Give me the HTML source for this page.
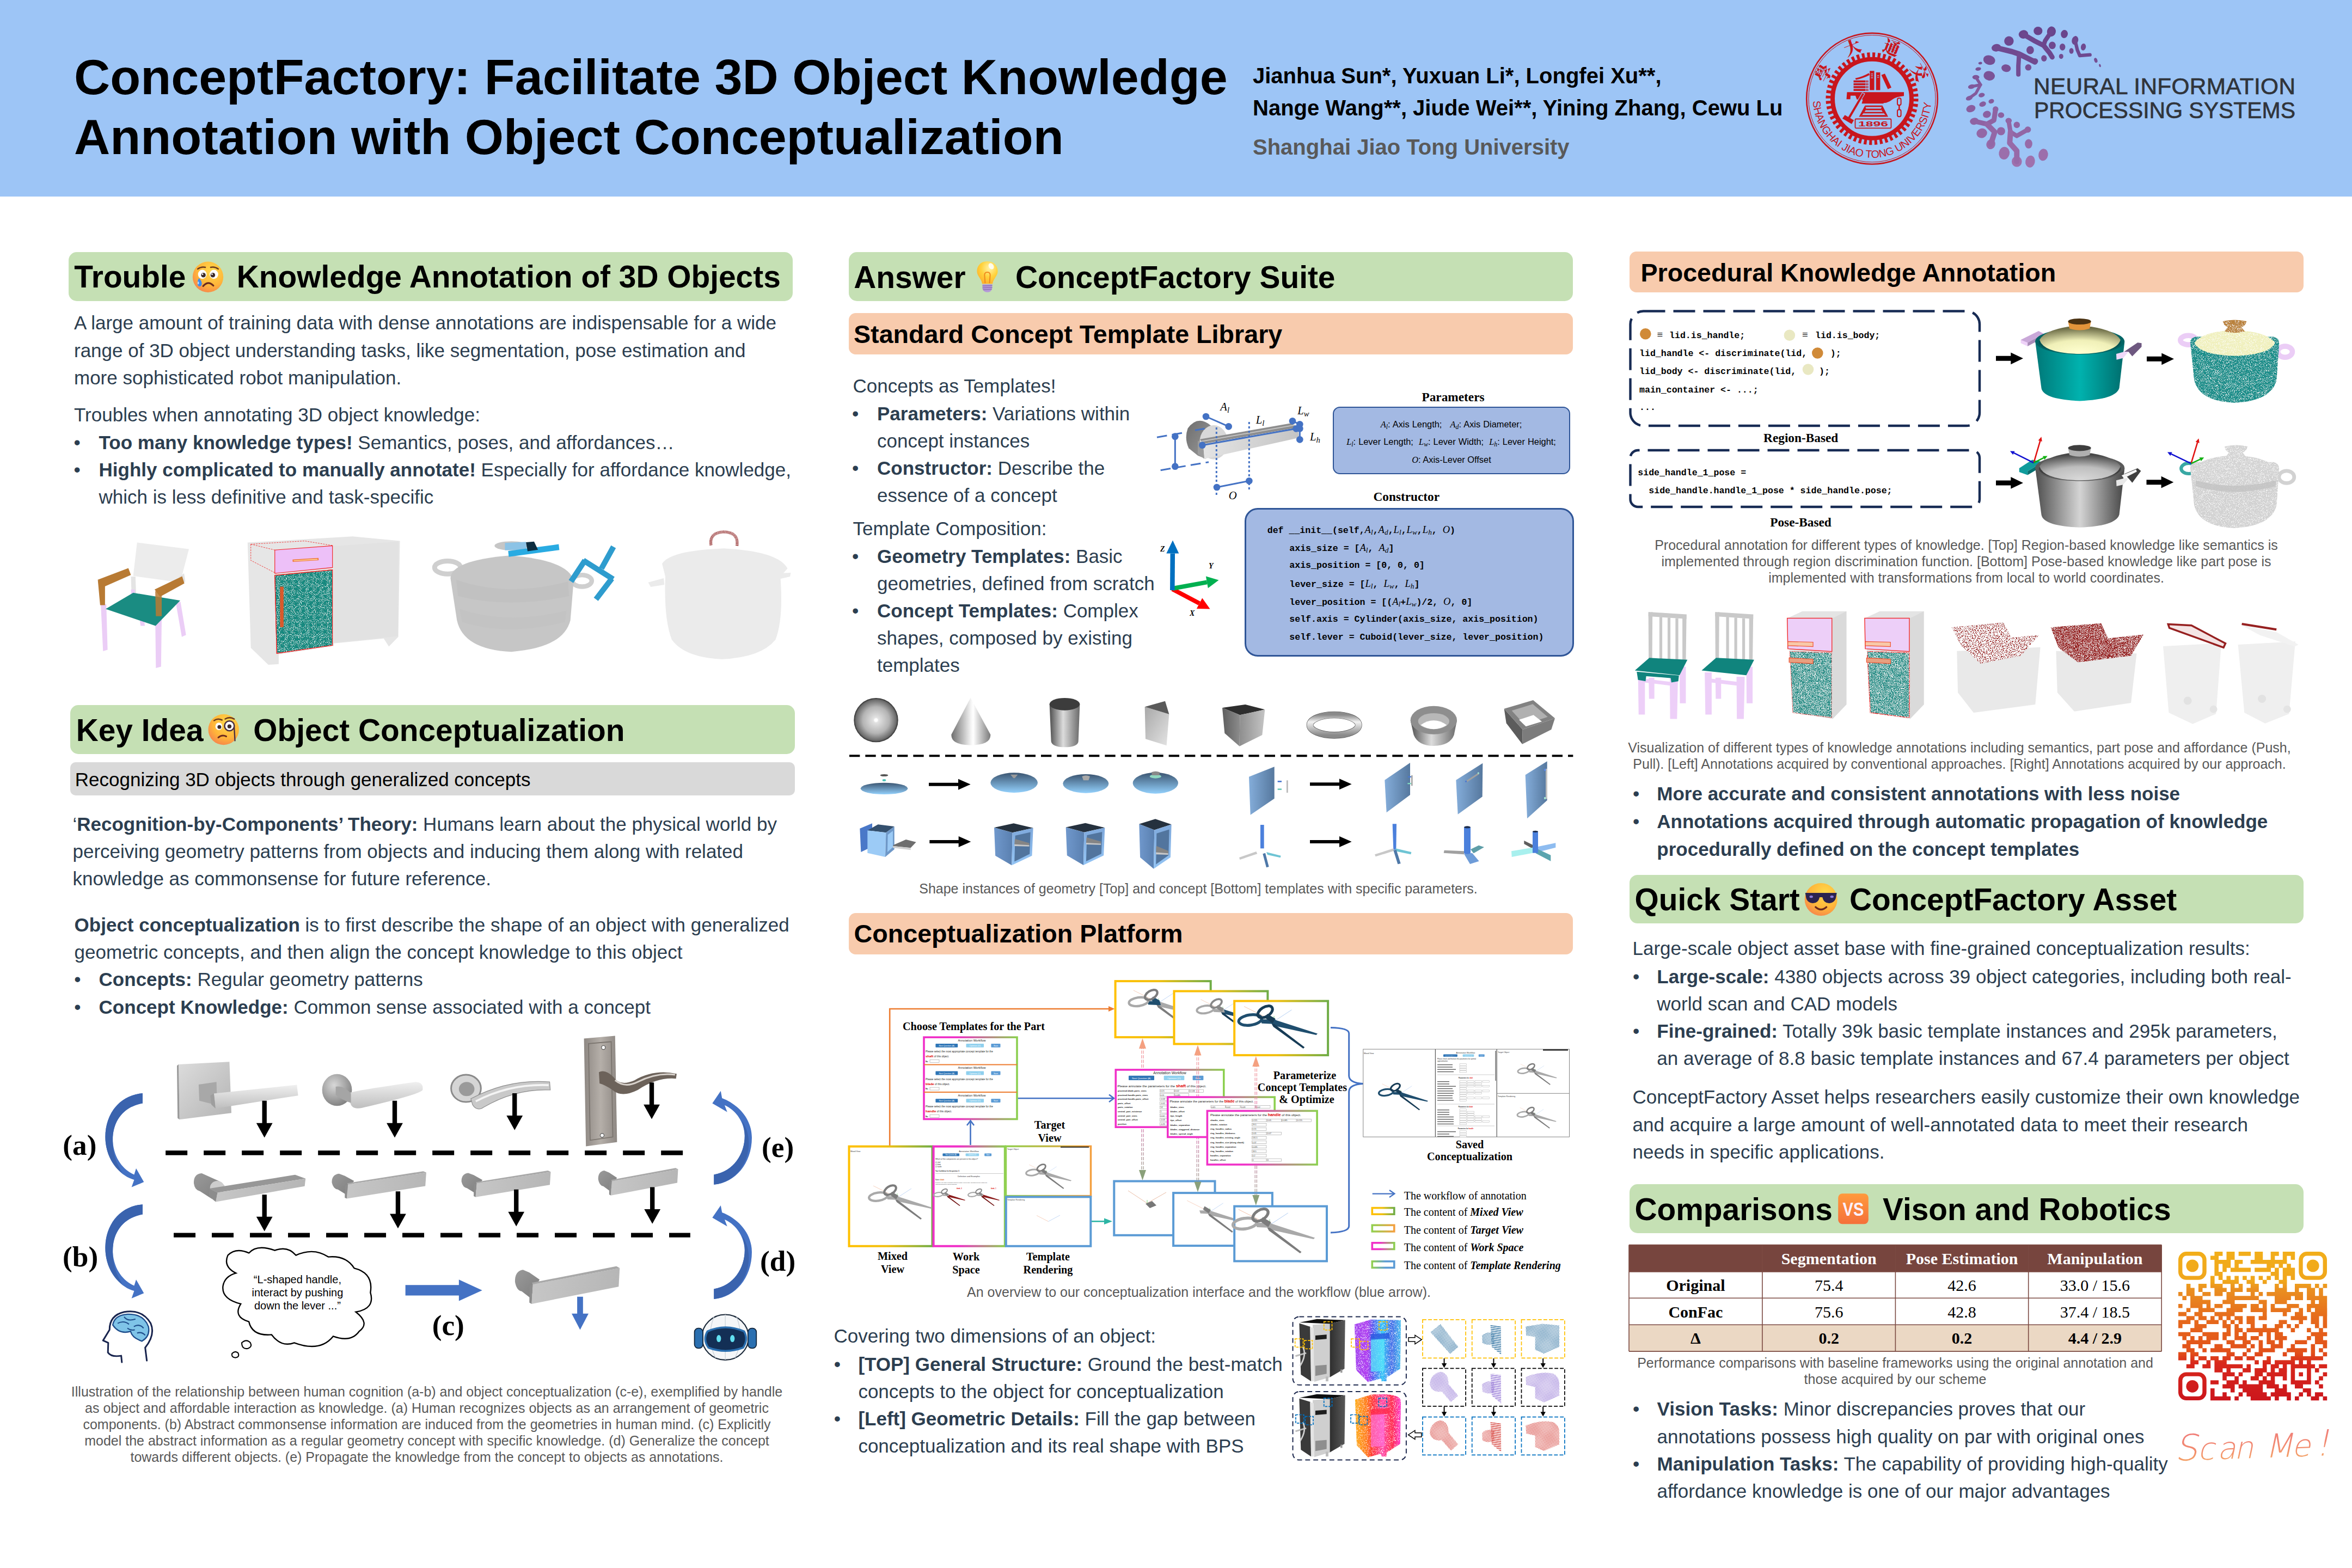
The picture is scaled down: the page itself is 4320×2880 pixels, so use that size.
<!DOCTYPE html>
<html lang="en"><head><meta charset="utf-8"><title>ConceptFactory Poster</title><style>
*{box-sizing:border-box}
html,body{margin:0;padding:0}
body{width:4320px;height:2880px;position:relative;overflow:hidden;background:#fff;font-family:"Liberation Sans",sans-serif;color:#2C3E50}
.t{position:absolute;white-space:nowrap;margin:0;padding:0}
.bar{position:absolute;border-radius:16px}
.g{background:#C5E0B4}.o{background:#F8CBAD}.gr{background:#D9D9D9}
b{font-weight:700}
svg{position:absolute;overflow:visible}
.se{font-family:"Liberation Serif",serif}
.mo{font-family:"Liberation Mono",monospace}
.cap{color:#595959;text-align:center}
i.se{font-weight:400}
.mo i.se{font-size:112%}
</style></head><body>
<div style="position:absolute;left:0;top:0;width:4320px;height:360.6px;background:#9DC5F6"></div>
<div class="t" style="left:136.0px;top:85.94px;font-size:91.67px;line-height:110px;color:#000"><b>ConceptFactory: Facilitate 3D Object Knowledge<br>Annotation with Object Conceptualization</b></div>
<div class="t" style="left:2301.0px;top:110.39px;font-size:40px;line-height:58.5px;color:#000"><b>Jianhua Sun*, Yuxuan Li*, Longfei Xu**,<br>Nange Wang**, Jiude Wei**, Yining Zhang, Cewu Lu</b></div>
<div class="t" style="left:2301.0px;top:246.14px;font-size:40px;line-height:48.0px;color:#595959"><b>Shanghai Jiao Tong University</b></div>
<svg style="left:0px;top:0px" width="4320" height="360" viewBox="0 0 4320 360" ><g transform="translate(3438.5,181.2)" fill="#C8161D" stroke="none"><circle r="120.3" fill="none" stroke="#C8161D" stroke-width="2.6"/><circle r="116.6" fill="none" stroke="#C8161D" stroke-width="1"/><circle r="80" fill="none" stroke="#C8161D" stroke-width="10" stroke-dasharray="5.1 4.566"/><circle r="72.5" fill="none" stroke="#C8161D" stroke-width="8"/><path id="sjarc" d="M -108.6 4.7 A 108.7 108.7 0 0 0 108.2 10.4" fill="none"/><text font-family="Liberation Sans, sans-serif" font-size="19.6" fill="#C8161D"><textPath href="#sjarc" textLength="329" lengthAdjust="spacing">SHANGHAI JIAO TONG UNIVERSITY</textPath></text><text transform="translate(87.5,-48.5) rotate(61)" font-family="Noto Serif CJK SC, Noto Sans CJK SC, serif" font-weight="900" font-size="31" text-anchor="middle" y="11">交</text><text transform="translate(35.8,-93.4) rotate(21)" font-family="Noto Serif CJK SC, Noto Sans CJK SC, serif" font-weight="900" font-size="31" text-anchor="middle" y="11">通</text><text transform="translate(-35.8,-93.4) rotate(-21)" font-family="Noto Serif CJK SC, Noto Sans CJK SC, serif" font-weight="900" font-size="31" text-anchor="middle" y="11">大</text><text transform="translate(-88.3,-46.9) rotate(-62)" font-family="Noto Serif CJK SC, Noto Sans CJK SC, serif" font-weight="900" font-size="31" text-anchor="middle" y="11">學</text><rect x="-34" y="-33.5" width="22" height="3.7"/><rect x="-11" y="-33.5" width="1.6" height="3.7"/><rect x="-8.6" y="-33.5" width="1.6" height="3.7"/><rect x="-34" y="-28.3" width="22" height="3.7"/><rect x="-11" y="-28.3" width="1.6" height="3.7"/><rect x="-8.6" y="-28.3" width="1.6" height="3.7"/><rect x="-34" y="-23.1" width="22" height="3.7"/><rect x="-11" y="-23.1" width="1.6" height="3.7"/><rect x="-8.6" y="-23.1" width="1.6" height="3.7"/><rect x="-34" y="-17.9" width="22" height="3.7"/><rect x="-11" y="-17.9" width="1.6" height="3.7"/><rect x="-8.6" y="-17.9" width="1.6" height="3.7"/><path d="M-31 -37.5 Q-18 -40 -6 -47 L-4.5 -43.5 Q-16 -37.5 -29.5 -34.8 Z"/><rect x="-4.3" y="-51" width="8.3" height="35.3"/><rect x="7.3" y="-48.3" width="7.6" height="32.6"/><path d="M17 -43.5 L23.5 -46 L35.5 -20.5 L29 -17.5 Z"/><g fill="#9DC4F6"><rect x="-2" y="-46" width="3.6" height="1.3"/><rect x="-2" y="-42.5" width="3.6" height="1.3"/><rect x="-2" y="-39" width="3.6" height="1.3"/><rect x="9.4" y="-43" width="3.4" height="1.2"/><rect x="9.4" y="-39.8" width="3.4" height="1.2"/></g><path d="M-46 -12 L58.5 -12 L58.5 -5 Q44 -3.5 38 1 Q33 5.5 26 7.5 L21 8 L21 9 L-19 9 L-17 1.5 L-28 1.5 L-30.5 -5.5 L-39.5 -5.5 L-40 1 L-47 1 Z"/><path d="M-13 12.6 L19 12.6 L17.6 15.4 L-12 15.4 Z M-10.8 18.4 L16.4 18.4 L17.5 21.2 L-11.8 21.2 Z M-13.8 24.2 L19.4 24.2 L21.8 27 L-16 27 Z M-18.6 30 L24.6 30 L27.6 33.2 L-22.6 33.2 Z"/><path d="M-12 15.4 L-10.8 18.4 L-11.8 21.2 L-13.8 24.2 L-16 27 L-18.6 30 L-22.6 33.2 L-24 33.2 L-13 12.6 Z M17.6 15.4 L16.4 18.4 L17.5 21.2 L19.4 24.2 L21.8 27 L24.6 30 L27.6 33.2 L29.5 33.2 L19 12.6Z"/><path d="M-18 -11 L-13.5 -9 L-41 38 L-45.5 35.5 Z" stroke="#9DC4F6" stroke-width="1.2"/><path d="M-50 30 L-33.5 39.5 L-37.5 46.5 L-54.5 36.5 Z"/><g fill="none" stroke="#C8161D" stroke-width="2"><rect x="46.5" y="-1" width="6.6" height="13" rx="3"/><rect x="46.5" y="20" width="6.6" height="13" rx="3"/><path d="M49.8 11 L49.8 21" stroke-width="2.6"/></g><rect x="-31" y="37.3" width="66" height="16.8" rx="1.5" fill="none" stroke="#C8161D" stroke-width="1.8"/><text x="2" y="50.6" font-family="Liberation Sans, sans-serif" font-weight="700" font-size="13.5" text-anchor="middle" textLength="55" lengthAdjust="spacingAndGlyphs">1896</text></g><ellipse cx="3743.3" cy="56.8" rx="8.1" ry="7.8" fill="#69438b" transform="rotate(0 3743.3 56.8)"/><ellipse cx="3767.9" cy="57.9" rx="8.1" ry="9.3" fill="#69448b" transform="rotate(10 3767.9 57.9)"/><ellipse cx="3716.5" cy="63.1" rx="8.7" ry="7.8" fill="#6a458c" transform="rotate(-10 3716.5 63.1)"/><ellipse cx="3689.9" cy="75.3" rx="8.7" ry="8.7" fill="#6d478e" transform="rotate(0 3689.9 75.3)"/><ellipse cx="3666.7" cy="87.7" rx="8.7" ry="6.9" fill="#704990" transform="rotate(-10 3666.7 87.7)"/><ellipse cx="3791.6" cy="62.5" rx="6.4" ry="7.5" fill="#6a458c" transform="rotate(10 3791.6 62.5)"/><ellipse cx="3811.3" cy="74.1" rx="5.8" ry="8.1" fill="#6d478e" transform="rotate(15 3811.3 74.1)"/><ellipse cx="3769.4" cy="83.4" rx="6.4" ry="6.9" fill="#6f498f" transform="rotate(0 3769.4 83.4)"/><ellipse cx="3788.2" cy="86.3" rx="5.2" ry="6.4" fill="#6f498f" transform="rotate(0 3788.2 86.3)"/><ellipse cx="3804.6" cy="93.5" rx="4.0" ry="5.2" fill="#714a90" transform="rotate(0 3804.6 93.5)"/><ellipse cx="3826.6" cy="86.3" rx="4.6" ry="6.4" fill="#6f498f" transform="rotate(10 3826.6 86.3)"/><ellipse cx="3728.9" cy="92.0" rx="6.9" ry="7.5" fill="#714a90" transform="rotate(0 3728.9 92.0)"/><ellipse cx="3754.3" cy="107.1" rx="5.2" ry="5.8" fill="#744d92" transform="rotate(0 3754.3 107.1)"/><ellipse cx="3785.8" cy="103.6" rx="4.0" ry="4.6" fill="#734c92" transform="rotate(0 3785.8 103.6)"/><ellipse cx="3849.4" cy="110.8" rx="2.9" ry="4.6" fill="#754e93" transform="rotate(-20 3849.4 110.8)"/><ellipse cx="3857.0" cy="120.4" rx="1.7" ry="2.9" fill="#775094" transform="rotate(-20 3857.0 120.4)"/><ellipse cx="3653.7" cy="110.3" rx="11.0" ry="8.7" fill="#754e93" transform="rotate(15 3653.7 110.3)"/><ellipse cx="3684.7" cy="125.3" rx="8.7" ry="6.9" fill="#785095" transform="rotate(10 3684.7 125.3)"/><ellipse cx="3725.4" cy="123.8" rx="5.8" ry="5.8" fill="#785095" transform="rotate(0 3725.4 123.8)"/><ellipse cx="3737.6" cy="112.3" rx="5.8" ry="5.2" fill="#754e93" transform="rotate(0 3737.6 112.3)"/><ellipse cx="3637.2" cy="116.0" rx="3.5" ry="2.3" fill="#764f94" transform="rotate(-10 3637.2 116.0)"/><ellipse cx="3633.5" cy="126.7" rx="5.2" ry="3.2" fill="#785195" transform="rotate(-10 3633.5 126.7)"/><ellipse cx="3653.7" cy="139.2" rx="10.4" ry="8.7" fill="#7b5397" transform="rotate(10 3653.7 139.2)"/><ellipse cx="3629.1" cy="141.8" rx="6.4" ry="4.0" fill="#7c5497" transform="rotate(0 3629.1 141.8)"/><ellipse cx="3621.1" cy="159.1" rx="6.4" ry="4.0" fill="#80579a" transform="rotate(-15 3621.1 159.1)"/><ellipse cx="3639.8" cy="174.7" rx="5.8" ry="4.0" fill="#835a9c" transform="rotate(-15 3639.8 174.7)"/><ellipse cx="3617.0" cy="180.2" rx="6.4" ry="4.0" fill="#845b9d" transform="rotate(-20 3617.0 180.2)"/><ellipse cx="3657.5" cy="186.0" rx="5.2" ry="4.0" fill="#865c9d" transform="rotate(-20 3657.5 186.0)"/><ellipse cx="3641.6" cy="191.2" rx="6.4" ry="4.6" fill="#875d9e" transform="rotate(-20 3641.6 191.2)"/><ellipse cx="3619.9" cy="199.6" rx="8.7" ry="6.4" fill="#895e9f" transform="rotate(-20 3619.9 199.6)"/><ellipse cx="3649.4" cy="210.0" rx="7.5" ry="6.4" fill="#8b60a1" transform="rotate(-20 3649.4 210.0)"/><ellipse cx="3675.4" cy="211.4" rx="5.8" ry="5.2" fill="#8c61a1" transform="rotate(0 3675.4 211.4)"/><ellipse cx="3626.3" cy="222.7" rx="8.1" ry="6.4" fill="#8e63a3" transform="rotate(-10 3626.3 222.7)"/><ellipse cx="3640.1" cy="244.7" rx="9.8" ry="8.7" fill="#9367a6" transform="rotate(-20 3640.1 244.7)"/><ellipse cx="3675.4" cy="240.9" rx="7.5" ry="7.5" fill="#9266a5" transform="rotate(0 3675.4 240.9)"/><ellipse cx="3704.3" cy="229.4" rx="5.8" ry="5.8" fill="#9064a4" transform="rotate(0 3704.3 229.4)"/><ellipse cx="3724.6" cy="238.0" rx="5.8" ry="5.8" fill="#9266a5" transform="rotate(0 3724.6 238.0)"/><ellipse cx="3656.6" cy="264.9" rx="8.1" ry="9.3" fill="#986ba9" transform="rotate(20 3656.6 264.9)"/><ellipse cx="3681.2" cy="281.4" rx="9.8" ry="11.6" fill="#9b6eab" transform="rotate(10 3681.2 281.4)"/><ellipse cx="3726.0" cy="264.1" rx="6.9" ry="8.7" fill="#976ba8" transform="rotate(0 3726.0 264.1)"/><ellipse cx="3704.3" cy="296.7" rx="9.3" ry="9.8" fill="#9f71ad" transform="rotate(0 3704.3 296.7)"/><ellipse cx="3728.9" cy="296.7" rx="8.7" ry="11.0" fill="#9f71ad" transform="rotate(10 3728.9 296.7)"/><ellipse cx="3752.9" cy="284.3" rx="8.7" ry="11.0" fill="#9c6eab" transform="rotate(10 3752.9 284.3)"/><ellipse cx="3665.3" cy="200.5" rx="5.2" ry="5.2" fill="#895f9f" transform="rotate(0 3665.3 200.5)"/><ellipse cx="3689.3" cy="221.6" rx="5.8" ry="5.2" fill="#8e63a2" transform="rotate(0 3689.3 221.6)"/><path d="M3666.7 87.7 L3695.6 94.9 L3708.6 99.3 L3728.9 109.4 L3737.6 113.7" fill="none" stroke="#704a90" stroke-width="9.9" stroke-linecap="round" stroke-linejoin="round"/><path d="M3708.6 99.3 L3707.2 120.9 L3707.2 136.8" fill="none" stroke="#734c92" stroke-width="8.1" stroke-linecap="round" stroke-linejoin="round"/><path d="M3716.5 63.1 L3736.1 74.7 L3753.5 83.4 L3765.0 97.8 L3769.4 105.0" fill="none" stroke="#6d478e" stroke-width="9.0" stroke-linecap="round" stroke-linejoin="round"/><path d="M3767.9 57.9 L3756.4 74.7 L3753.5 83.4" fill="none" stroke="#6c468d" stroke-width="8.1" stroke-linecap="round" stroke-linejoin="round"/><path d="M3811.3 74.1 L3815.6 92.0 L3820.0 102.2 L3838.7 100.7" fill="none" stroke="#6e488f" stroke-width="6.3" stroke-linecap="round" stroke-linejoin="round"/><path d="M3629.1 141.8 L3637.8 155.6 L3621.1 159.1" fill="none" stroke="#81589a" stroke-width="5.4" stroke-linecap="round" stroke-linejoin="round"/><path d="M3637.8 155.6 L3629.1 171.5 L3617.0 180.2" fill="none" stroke="#845a9c" stroke-width="5.4" stroke-linecap="round" stroke-linejoin="round"/><path d="M3626.3 222.7 L3649.4 227.9 L3662.4 220.7 L3665.3 200.5" fill="none" stroke="#8f63a3" stroke-width="9.0" stroke-linecap="round" stroke-linejoin="round"/><path d="M3649.4 227.9 L3663.8 242.4 L3656.6 264.9" fill="none" stroke="#9367a6" stroke-width="9.9" stroke-linecap="round" stroke-linejoin="round"/><path d="M3689.3 221.6 L3692.7 242.4 L3704.3 249.6 L3724.6 238.0" fill="none" stroke="#9266a5" stroke-width="8.1" stroke-linecap="round" stroke-linejoin="round"/><path d="M3692.7 242.4 L3691.3 262.6 L3704.3 277.1 L3704.3 296.7" fill="none" stroke="#976aa8" stroke-width="9.9" stroke-linecap="round" stroke-linejoin="round"/><text x="3735" y="173.2" font-family="Liberation Sans, sans-serif" font-size="42.4" fill="#30343A" stroke="#30343A" stroke-width="0.7" textLength="481" lengthAdjust="spacing">NEURAL INFORMATION</text><text x="3736" y="216.6" font-family="Liberation Sans, sans-serif" font-size="42.4" fill="#30343A" stroke="#30343A" stroke-width="0.7" textLength="480" lengthAdjust="spacingAndGlyphs">PROCESSING SYSTEMS</text></svg>
<div class="bar g" style="left:126px;top:463.2px;width:1330px;height:89.8px;border-radius:15.0px"></div>
<div class="t" style="left:136.2px;top:475.49px;font-size:56.85px;line-height:68.22px;color:#000"><b>Trouble</b></div>
<div class="t" style="left:434.8px;top:475.49px;font-size:56.85px;line-height:68.22px;color:#000"><b>Knowledge Annotation of 3D Objects</b></div>
<svg style="left:340px;top:470px" width="90" height="80" viewBox="0 0 90 80" ><defs><radialGradient id="fgsad" cx="0.62" cy="0.3" r="0.85"><stop offset="0" stop-color="#FFD84A"/><stop offset="0.55" stop-color="#FFB63A"/><stop offset="0.85" stop-color="#F78A4A"/><stop offset="1" stop-color="#E86A8A"/></radialGradient></defs><circle cx="42" cy="38.80000000000001" r="28.2" fill="url(#fgsad)"/><g transform="translate(42,38.80000000000001) scale(0.9894736842105263)"><ellipse cx="-10.5" cy="-5" rx="8" ry="8.5" fill="#fff"/><ellipse cx="11" cy="-5" rx="8" ry="8.5" fill="#fff"/><circle cx="-8.5" cy="-3.5" r="4.3" fill="#3B2A2A"/><circle cx="9" cy="-3.5" r="4.3" fill="#3B2A2A"/><circle cx="-10" cy="-5.2" r="1.4" fill="#fff"/><circle cx="7.6" cy="-5.2" r="1.4" fill="#fff"/><path d="M-19 -15 Q-12 -20 -5 -18" stroke="#6B3A1E" stroke-width="2.6" fill="none" stroke-linecap="round"/><path d="M19 -15 Q12 -20 5 -18" stroke="#6B3A1E" stroke-width="2.6" fill="none" stroke-linecap="round"/><path d="M-9 17 Q0 6 10 16" stroke="#6B2A1E" stroke-width="3.2" fill="none" stroke-linecap="round"/><path d="M-17 2 Q-22 12 -17.5 17 Q-12 19 -11.5 12 Q-12 6 -17 2Z" fill="#3E8BF0"/><ellipse cx="-18" cy="11" rx="1.3" ry="2.6" fill="#BFE0FF"/></g></svg>
<div class="t" style="left:136.0px;top:568.17px;font-size:35px;line-height:50.4px;">A large amount of training data with dense annotations are indispensable for a wide<br>range of 3D object understanding tasks, like segmentation, pose estimation and<br>more sophisticated robot manipulation.</div>
<div class="t" style="left:136.0px;top:737.17px;font-size:35px;line-height:50.4px;">Troubles when annotating 3D object knowledge:</div>
<div class="t" style="left:135.4px;top:787.67px;font-size:35px;line-height:50.4px;">•</div>
<div class="t" style="left:135.4px;top:837.87px;font-size:35px;line-height:50.4px;">•</div>
<div class="t" style="left:181.5px;top:787.72px;font-size:35px;line-height:50.3px;"><b>Too many knowledge types!</b> Semantics, poses, and affordances…<br><b>Highly complicated to manually annotate!</b> Especially for affordance knowledge,<br>which is less definitive and task-specific</div>
<svg style="left:100px;top:940px" width="1400" height="320" viewBox="0 0 2352 537.6" ><defs><filter id="pcn" x="0" y="0" width="100%" height="100%"><feTurbulence type="fractalNoise" baseFrequency="0.55" numOctaves="1" seed="4" result="n"/><feColorMatrix in="n" type="matrix" values="0 0 0 0 1  0 0 0 0 1  0 0 0 0 1  0 0 0 -9 3.9" result="m"/><feComposite in="m" in2="SourceGraphic" operator="in" result="sp"/><feMerge><feMergeNode in="SourceGraphic"/><feMergeNode in="sp"/></feMerge></filter></defs><g><path d="M255 95 L415 115 L388 218 L243 198 Z" fill="#ECECEC"/><path d="M236 200 L250 200 L252 255 L238 255Z M385 200 L400 190 L404 215 L392 222Z" fill="#E4E4E4"/><g fill="#EBCDF6"><path d="M143 285 L160 285 L164 426 L150 430Z"/><path d="M311 325 L331 325 L329 478 L313 482Z"/><path d="M374 278 L389 278 L406 380 L393 386Z"/><path d="M262 328 L276 328 L279 352 L266 352Z"/><path d="M236 240 L248 240 L249 262 L237 262Z"/></g><path d="M158 300 L243 250 L388 274 L312 352 Z" fill="#1A8C82"/><g fill="#B87A33"><path d="M133 210 L228 174 L236 195 L152 232Z"/><path d="M134 212 L156 218 L156 288 L141 288Z"/><path d="M309 240 L394 199 L401 221 L326 262Z"/><path d="M311 245 L331 250 L331 322 L313 322Z" opacity="0.85"/></g></g><path d="M596 95 L920 76 L1066 90 L1061 386 L1032 416 L1016 391 L862 406 L862 414 L692 440 L692 470 L660 472 L606 420 Z" fill="#E6E6E6"/><path d="M862 106 L1062 92 L1060 384 L862 404Z" fill="#E2E2E2"/><path d="M606 100 L772 90 L858 104 M606 100 L606 150 L680 188 M606 100 L680 118" stroke="#F03A3A" stroke-width="1.6" fill="none" stroke-dasharray="5 3"/><path d="M680 118 L858 105 L858 172 L680 190 Z" fill="#EDC0F8" stroke="#F02828" stroke-width="2"/><path d="M735 151 L815 146" stroke="#F07838" stroke-width="7"/><path d="M738 151 L812 146.5" stroke="#FFE2B0" stroke-width="2.5"/><path d="M680 196 L858 179 L858 412 L686 437 Z" fill="#17897F" stroke="#F02828" stroke-width="2" filter="url(#pcn)"/><path d="M680 196 L858 179 L858 412 L686 437 Z" fill="none" stroke="#F02828" stroke-width="2"/><rect x="696" y="231" width="11" height="125" fill="#D95A2B"/><g fill="#C6C6C6"><ellipse cx="1213" cy="172" rx="40" ry="20" fill="none" stroke="#CFCFCF" stroke-width="15"/><ellipse cx="1628" cy="213" rx="30" ry="18" fill="none" stroke="#CFCFCF" stroke-width="14"/><path d="M1222 205 Q1225 150 1405 135 Q1592 150 1602 215 L1592 335 Q1570 420 1410 432 Q1262 425 1242 335 Z"/><ellipse cx="1410" cy="105" rx="52" ry="14"/><path d="M1240 210 Q1400 265 1585 215 L1588 260 Q1400 300 1245 260Z" fill="#C1C1C1"/><path d="M1250 300 Q1400 350 1580 305 L1575 340 Q1400 385 1258 340Z" fill="#C3C3C3"/></g><path d="M1390 96 L1455 93 L1457 116 L1390 119Z" fill="#8CC3E6"/><path d="M1400 121 L1556 100 L1558 118 L1402 139Z" fill="#29ABE2"/><path d="M1455 94 L1480 92 L1492 117 L1460 122Z" fill="#0D2D40"/><path d="M1725 108 L1688 175 M1632 150 L1724 208 M1637 150 L1594 215 M1720 206 L1671 270" stroke="#2E9CCE" stroke-width="17" fill="none" stroke-linecap="butt"/><g fill="#EBEBEB"><path d="M1832 218 L1880 205 L1882 225 L1840 232Z M2232 190 L2272 188 L2270 200 L2235 208Z"/><path d="M1875 160 Q1900 120 2065 113 Q2235 122 2262 175 L2240 200 Q2250 330 2225 395 Q2180 450 2060 455 Q1945 450 1905 395 Q1880 330 1885 200 Z"/></g><path d="M2026 103 Q2020 64 2066 62 Q2112 64 2106 105" fill="none" stroke="#8E2424" stroke-width="9" stroke-dasharray="2 1.6"/></svg>
<div class="bar g" style="left:128.9px;top:1294.9px;width:1331px;height:89.7px;border-radius:15.0px"></div>
<div class="t" style="left:139.7px;top:1307.59px;font-size:56.85px;line-height:68.22px;color:#000"><b>Key Idea</b></div>
<div class="t" style="left:465.3px;top:1307.59px;font-size:56.85px;line-height:68.22px;color:#000"><b>Object Conceptualization</b></div>
<svg style="left:370px;top:1300px" width="90" height="85" viewBox="0 0 90 85" ><defs><radialGradient id="fgmon" cx="0.62" cy="0.3" r="0.85"><stop offset="0" stop-color="#FFD84A"/><stop offset="0.55" stop-color="#FFB63A"/><stop offset="0.85" stop-color="#F78A4A"/><stop offset="1" stop-color="#E86A8A"/></radialGradient></defs><circle cx="40.69999999999999" cy="40" r="28.2" fill="url(#fgmon)"/><g transform="translate(40.69999999999999,40) scale(0.9724137931034482)"><ellipse cx="-9" cy="-6" rx="6.5" ry="7" fill="#fff"/><circle cx="-8" cy="-5" r="3.6" fill="#3B2A2A"/><circle cx="11" cy="-7" r="9.2" fill="#fff" stroke="#4A3040" stroke-width="2.6"/><circle cx="11" cy="-6" r="3.8" fill="#3B2A2A"/><path d="M20 -5 L21.5 22" stroke="#4A3040" stroke-width="2.4" fill="none"/><path d="M-18 -17 Q-11 -22 -3 -18" stroke="#6B3A1E" stroke-width="2.6" fill="none" stroke-linecap="round"/><path d="M3 -20 Q11 -25 20 -20" stroke="#6B3A1E" stroke-width="2.6" fill="none" stroke-linecap="round"/><path d="M-10 15 Q-3 9 5 13" stroke="#6B2A1E" stroke-width="3" fill="none" stroke-linecap="round"/></g></svg>
<div class="bar gr" style="left:129px;top:1400px;width:1331px;height:61px;border-radius:10px"></div>
<div class="t" style="left:137.8px;top:1410.57px;font-size:35px;line-height:42.0px;color:#000">Recognizing 3D objects through generalized concepts</div>
<div class="t" style="left:133.5px;top:1488.67px;font-size:35px;line-height:50.4px;">‘<b>Recognition-by-Components’ Theory:</b> Humans learn about the physical world by<br>perceiving geometry patterns from objects and inducing them along with related<br>knowledge as commonsense for future reference.</div>
<div class="t" style="left:136.6px;top:1673.67px;font-size:35px;line-height:50.4px;"><b>Object conceptualization</b> is to first describe the shape of an object with generalized<br>geometric concepts, and then align the concept knowledge to this object</div>
<div class="t" style="left:136.2px;top:1774.47px;font-size:35px;line-height:50.4px;">•</div>
<div class="t" style="left:136.2px;top:1824.87px;font-size:35px;line-height:50.4px;">•</div>
<div class="t" style="left:181.6px;top:1774.47px;font-size:35px;line-height:50.4px;"><b>Concepts:</b> Regular geometry patterns<br><b>Concept Knowledge:</b> Common sense associated with a concept</div>
<svg style="left:100px;top:1880px" width="1400" height="640" viewBox="0 0 2352 1075.2" ><defs><linearGradient id="neckg" x1="0" y1="0" x2="1" y2="1"><stop offset="0" stop-color="#9A9A9A"/><stop offset="1" stop-color="#7E7E7E"/></linearGradient><linearGradient id="barg" x1="0" y1="0" x2="1" y2="0"><stop offset="0" stop-color="#C6C6C6"/><stop offset="1" stop-color="#B6B6B6"/></linearGradient><linearGradient id="plg" x1="0" y1="0" x2="1" y2="1"><stop offset="0" stop-color="#DCDCDC"/><stop offset="1" stop-color="#B4B4B4"/></linearGradient><linearGradient id="lvg" x1="0" y1="0" x2="0" y2="1"><stop offset="0" stop-color="#F0F0F0"/><stop offset="1" stop-color="#BEBEBE"/></linearGradient><radialGradient id="rose" cx="0.4" cy="0.35" r="0.7"><stop offset="0" stop-color="#D8D8D8"/><stop offset="1" stop-color="#7E7E7E"/></radialGradient><linearGradient id="bpl" x1="0" y1="0" x2="1" y2="0"><stop offset="0" stop-color="#8E8883"/><stop offset="0.5" stop-color="#B5AFA9"/><stop offset="1" stop-color="#8E8883"/></linearGradient></defs><path d="M383 126 L540 118 L546 276 L386 296Z" fill="url(#plg)"/><path d="M383 126 L386 296 L380 292 L378 130Z" fill="#9A9A9A"/><path d="M445 188 L500 180 L502 252 L447 238Z" fill="#A8A8A8"/><path d="M492 216 L748 189 L752 222 L497 262Z" fill="url(#lvg)"/><path d="M492 216 L497 262 L484 250 L481 222Z" fill="#9E9E9E"/><ellipse cx="872" cy="205" rx="46" ry="49" fill="url(#rose)"/><path d="M905 215 Q935 205 1115 180 Q1140 182 1136 205 Q1130 218 950 260 Q915 268 912 240Z" fill="url(#lvg)"/><path d="M868 195 Q890 190 915 215 L915 245 Q885 235 868 220Z" fill="#A5A5A5"/><ellipse cx="1270" cy="200" rx="46" ry="42" fill="#D5D5D5" stroke="#8A8A8A" stroke-width="5"/><ellipse cx="1272" cy="202" rx="24" ry="22" fill="#9A9A9A"/><path d="M1285 232 Q1400 170 1528 180 L1530 205 Q1420 200 1318 262 Q1300 268 1290 250Z" fill="#C9C9C9" stroke="#8E8E8E" stroke-width="2"/><path d="M1300 240 Q1405 185 1525 190" stroke="#F4F4F4" stroke-width="6" fill="none"/><path d="M1634 46 L1730 38 L1736 366 L1640 379Z" fill="url(#bpl)"/><path d="M1648 62 L1718 56 L1723 350 L1653 360Z" fill="none" stroke="#7A746E" stroke-width="3"/><circle cx="1694" cy="74" r="6" fill="#fff" stroke="#555" stroke-width="2"/><circle cx="1690" cy="345" r="6" fill="#fff" stroke="#555" stroke-width="2"/><path d="M1680 150 Q1700 140 1725 165 Q1745 195 1790 175 Q1850 140 1920 155 L1918 170 Q1860 165 1800 205 Q1750 230 1722 205 Q1700 190 1682 185Z" fill="#6C625A"/><path d="M1730 175 Q1760 200 1800 180 Q1860 150 1915 158" stroke="#D8D2CC" stroke-width="5" fill="none"/><path d="M641.0 238 L655.0 238 L655.0 307 L673.0 307 L648 352 L623.0 307 L641.0 307Z" fill="#000"/><path d="M1043.0 238 L1057.0 238 L1057.0 307 L1075.0 307 L1050 352 L1025.0 307 L1043.0 307Z" fill="#000"/><path d="M1413.0 215 L1427.0 215 L1427.0 284 L1445.0 284 L1420 329 L1395.0 284 L1413.0 284Z" fill="#000"/><path d="M1836.0 182 L1850.0 182 L1850.0 250 L1868.0 250 L1843 295 L1818.0 250 L1836.0 250Z" fill="#000"/><path d="M343 399 L1940 399" stroke="#000" stroke-width="14" stroke-dasharray="67.2 50.4"/><g transform="translate(430.0,462.0) scale(0.3601,0.3621) translate(-82,-75)"><path d="M150 75 Q80 80 82 160 Q90 220 135 228 L235 292 L345 180 L300 142Z" fill="url(#neckg)"/><ellipse cx="283" cy="198" rx="62" ry="58" fill="#CDCDCD"/><path d="M215 205 L950 88 L1040 120 L285 240Z" fill="#979797"/><path d="M285 240 L1040 120 L1032 185 L270 318Z" fill="url(#barg)"/><path d="M215 205 L285 240 L270 318 L210 270Z" fill="#8C8C8C"/></g><g transform="translate(855.0,455.0) scale(0.3560,0.3525) translate(-1265,-48)"><path d="M1330 72 Q1265 80 1268 150 Q1280 205 1320 210 L1385 250 L1460 135 L1380 90Z" fill="url(#neckg)"/><path d="M1400 155 L2060 50 L2088 62 L1408 166Z" fill="#A8A8A8"/><path d="M1406 165 L2086 62 L2078 180 L1398 290Z" fill="url(#barg)"/><path d="M1382 172 L1406 165 L1398 290 L1380 282Z" fill="#8C8C8C"/></g><g transform="translate(1255.0,453.0) scale(0.3366,0.3402) translate(-1265,-48)"><path d="M1330 72 Q1265 80 1268 150 Q1280 205 1320 210 L1385 250 L1460 135 L1380 90Z" fill="url(#neckg)"/><path d="M1400 155 L2060 50 L2088 62 L1408 166Z" fill="#A8A8A8"/><path d="M1406 165 L2086 62 L2078 180 L1398 290Z" fill="url(#barg)"/><path d="M1382 172 L1406 165 L1398 290 L1380 282Z" fill="#8C8C8C"/></g><g transform="translate(1677.0,445.0) scale(0.3013,0.3525) translate(-1265,-48)"><path d="M1330 72 Q1265 80 1268 150 Q1280 205 1320 210 L1385 250 L1460 135 L1380 90Z" fill="url(#neckg)"/><path d="M1400 155 L2060 50 L2088 62 L1408 166Z" fill="#A8A8A8"/><path d="M1406 165 L2086 62 L2078 180 L1398 290Z" fill="url(#barg)"/><path d="M1382 172 L1406 165 L1398 290 L1380 282Z" fill="#8C8C8C"/></g><path d="M641.0 528 L655.0 528 L655.0 596 L673.0 596 L648 641 L623.0 596 L641.0 596Z" fill="#000"/><path d="M1053.0 518 L1067.0 518 L1067.0 587 L1085.0 587 L1060 632 L1035.0 587 L1053.0 587Z" fill="#000"/><path d="M1418.0 512 L1432.0 512 L1432.0 581 L1450.0 581 L1425 626 L1400.0 581 L1418.0 581Z" fill="#000"/><path d="M1838.0 505 L1852.0 505 L1852.0 573 L1870.0 573 L1845 618 L1820.0 573 L1838.0 573Z" fill="#000"/><path d="M368 653 L1962 653" stroke="#000" stroke-width="14" stroke-dasharray="67.2 50.4"/><g transform="translate(1420.0,748.0) scale(0.3949,0.4836) translate(-1265,-48)"><path d="M1330 72 Q1265 80 1268 150 Q1280 205 1320 210 L1385 250 L1460 135 L1380 90Z" fill="url(#neckg)"/><path d="M1400 155 L2060 50 L2088 62 L1408 166Z" fill="#A8A8A8"/><path d="M1406 165 L2086 62 L2078 180 L1398 290Z" fill="url(#barg)"/><path d="M1382 172 L1406 165 L1398 290 L1380 282Z" fill="#8C8C8C"/></g><path d="M1613.0 843 L1631.0 843 L1631.0 895 L1648.0 895 L1622 945 L1596.0 895 L1613.0 895Z" fill="#4472C4"/><path d="M1083 807 L1248 807 L1248 790 L1320 823 L1248 856 L1248 839 L1083 839Z" fill="#4472C4"/><g transform="translate(0,0)"><path d="M272 215 C190 222 150 295 158 368 C166 432 208 472 246 482 L238 505 L276 489 L252 447 L246 466 C214 452 184 418 180 364 C178 300 214 256 272 246 Z" fill="#4472C4"/><path d="M272 215 C190 222 150 295 158 368 C163 410 183 442 210 462 C190 430 180 400 180 364 C178 300 214 256 272 246Z" fill="#3A63AE"/></g><g transform="translate(0,343)"><path d="M272 215 C190 222 150 295 158 368 C166 432 208 472 246 482 L238 505 L276 489 L252 447 L246 466 C214 452 184 418 180 364 C178 300 214 256 272 246 Z" fill="#4472C4"/><path d="M272 215 C190 222 150 295 158 368 C163 410 183 442 210 462 C190 430 180 400 180 364 C178 300 214 256 272 246Z" fill="#3A63AE"/></g><g transform="translate(0,0)"><path d="M2035 497 L2035 466 C2096 456 2130 402 2130 346 C2128 300 2100 266 2068 252 L2076 273 L2030 246 L2056 208 L2060 230 C2112 250 2152 296 2152 352 C2152 432 2100 492 2035 497 Z" fill="#4472C4"/><path d="M2035 497 L2035 466 C2096 456 2130 402 2130 346 C2130 330 2127 315 2121 300 C2150 340 2150 400 2120 445 C2100 475 2070 493 2035 497Z" fill="#3A63AE"/></g><g transform="translate(0,353)"><path d="M2035 497 L2035 466 C2096 456 2130 402 2130 346 C2128 300 2100 266 2068 252 L2076 273 L2030 246 L2056 208 L2060 230 C2112 250 2152 296 2152 352 C2152 432 2100 492 2035 497 Z" fill="#4472C4"/><path d="M2035 497 L2035 466 C2096 456 2130 402 2130 346 C2130 330 2127 315 2121 300 C2150 340 2150 400 2120 445 C2100 475 2070 493 2035 497Z" fill="#3A63AE"/></g><text x="78" y="405" font-family="Liberation Serif, serif" font-weight="700" font-size="89.5" text-anchor="middle" fill="#000">(a)</text><text x="80" y="750" font-family="Liberation Serif, serif" font-weight="700" font-size="89.5" text-anchor="middle" fill="#000">(b)</text><text x="1215" y="961" font-family="Liberation Serif, serif" font-weight="700" font-size="89.5" text-anchor="middle" fill="#000">(c)</text><text x="2232" y="411" font-family="Liberation Serif, serif" font-weight="700" font-size="89.5" text-anchor="middle" fill="#000">(e)</text><text x="2232" y="762" font-family="Liberation Serif, serif" font-weight="700" font-size="89.5" text-anchor="middle" fill="#000">(d)</text><path d="M560 770 Q520 750 535 715 Q560 690 600 708 Q625 680 680 700 Q720 685 745 715 Q800 690 845 720 Q900 715 925 755 Q985 770 975 830 Q990 880 930 890 Q975 925 940 950 Q915 985 860 965 Q820 1015 740 985 Q700 1000 670 960 Q610 965 600 920 Q550 905 575 865 Q515 850 520 810 Q525 780 560 770Z" fill="#fff" stroke="#000" stroke-width="4"/><path d="M578 985 Q592 972 604 984 Q612 998 596 1003 Q578 1005 578 985Z M548 1018 Q558 1008 567 1017 Q572 1030 558 1031 Q545 1030 548 1018Z" fill="#fff" stroke="#000" stroke-width="3.5"/><text x="750" y="802" font-family="Liberation Sans, sans-serif" font-size="33.6" text-anchor="middle" fill="#000">“L-shaped handle,</text><text x="750" y="842" font-family="Liberation Sans, sans-serif" font-size="33.6" text-anchor="middle" fill="#000">interact by pushing</text><text x="750" y="882" font-family="Liberation Sans, sans-serif" font-size="33.6" text-anchor="middle" fill="#000">down the lever ...”</text><g fill="none" stroke="#18244E" stroke-width="5" stroke-linecap="round" stroke-linejoin="round"><path d="M208 1045 L206 1025 Q175 1030 165 1015 L166 985 L150 978 L170 945 Q170 900 215 890 Q270 880 297 925 Q312 960 280 1000 L285 1040"/></g><path d="M180 930 Q185 900 225 897 Q275 895 290 935 Q296 965 270 980 Q240 970 235 950 Q200 960 180 930Z" fill="#7FC4E8" stroke="#1F4E8C" stroke-width="4"/><path d="M195 925 Q215 915 230 928 M215 905 Q225 920 250 912 M245 935 Q262 925 275 940 M255 955 Q270 950 280 962 M225 940 Q235 948 248 945" stroke="#1F4E8C" stroke-width="3.5" fill="none"/><ellipse cx="2070" cy="968" rx="72" ry="70" fill="#F4F6F8" stroke="#1C2A3A" stroke-width="3.5"/><path d="M2070 898 L2070 1038 M2035 905 Q2010 970 2040 1032 M2105 905 Q2130 970 2100 1032" stroke="#C8D0D8" stroke-width="2" fill="none"/><rect x="1975" y="940" width="26" height="62" rx="12" fill="#2A6FB0" stroke="#13263C" stroke-width="3"/><rect x="2140" y="940" width="26" height="62" rx="12" fill="#2A6FB0" stroke="#13263C" stroke-width="3"/><path d="M2015 950 Q2070 925 2128 950 Q2142 975 2125 1000 Q2070 1020 2018 1000 Q2000 975 2015 950Z" fill="#132F55" stroke="#2A6FB0" stroke-width="6"/><ellipse cx="2050" cy="972" rx="7" ry="11" fill="#62E0F0"/><ellipse cx="2092" cy="972" rx="7" ry="11" fill="#62E0F0"/></svg>
<div class="t cap" style="left:-216.0px;top:2541.04px;font-size:25px;line-height:30px;width:2000px;text-align:center;">Illustration of the relationship between human cognition (a-b) and object conceptualization (c-e), exemplified by handle<br>as object and affordable interaction as knowledge. (a) Human recognizes objects as an arrangement of geometric<br>components. (b) Abstract commonsense information are induced from the geometries in human mind. (c) Explicitly<br>model the abstract information as a regular geometry concept with specific knowledge. (d) Generalize the concept<br>towards different objects. (e) Propagate the knowledge from the concept to objects as annotations.</div>
<div class="bar g" style="left:1559px;top:463.2px;width:1330px;height:89.7px;border-radius:15.0px"></div>
<div class="t" style="left:1568.2px;top:475.59px;font-size:56.85px;line-height:68.22px;color:#000"><b>Answer</b></div>
<div class="t" style="left:1865.0px;top:475.69px;font-size:56.85px;line-height:68.22px;color:#000"><b>ConceptFactory Suite</b></div>
<svg style="left:1780px;top:470px" width="70" height="80" viewBox="0 0 70 80" ><defs><radialGradient id="bg1" cx="0.6" cy="0.3" r="0.8"><stop offset="0" stop-color="#FFF3A8"/><stop offset="0.5" stop-color="#FFD23C"/><stop offset="1" stop-color="#FFA928"/></radialGradient></defs><g transform="translate(33.5,10) scale(1.0052910052910053)"><path d="M0 0 C-13 0 -19 9 -19 18 C-19 27 -11 31 -9.5 41 L9.5 41 C11 31 19 27 19 18 C19 9 13 0 0 0Z" fill="url(#bg1)"/><path d="M-4 40 L-5 27 Q-6 20 0 20 Q6 20 5 27 L4 40" stroke="#F08A1E" stroke-width="2" fill="none"/><ellipse cx="7" cy="9" rx="4.5" ry="6" fill="#fff" opacity="0.85" transform="rotate(-30 7 9)"/><path d="M-9 42 L9 42 L8.5 51 Q6 56.5 0 56.5 Q-6 56.5 -8.5 51Z" fill="#B59AD8"/><path d="M-9 45 L9 44 M-9 48.5 L9 47.5 M-8 52 L8 51" stroke="#8E73B8" stroke-width="1.4"/></g></svg>
<div class="bar o" style="left:1559px;top:575.1px;width:1330px;height:75.7px;border-radius:12.6px"></div>
<div class="t" style="left:1568.0px;top:585.83px;font-size:46.67px;line-height:56.0px;color:#000"><b>Standard Concept Template Library</b></div>
<div class="t" style="left:1566.5px;top:684.47px;font-size:35px;line-height:50.2px;">Concepts as Templates!</div>
<div class="t" style="left:1564.9px;top:735.07px;font-size:35px;line-height:50px;">•</div>
<div class="t" style="left:1564.9px;top:835.47px;font-size:35px;line-height:50px;">•</div>
<div class="t" style="left:1564.9px;top:996.87px;font-size:35px;line-height:50px;">•</div>
<div class="t" style="left:1564.9px;top:1097.07px;font-size:35px;line-height:50px;">•</div>
<div class="t" style="left:1611.0px;top:735.00px;font-size:35px;line-height:50.15px;"><b>Parameters:</b> Variations within<br>concept instances<br><b>Constructor:</b> Describe the<br>essence of a concept</div>
<div class="t" style="left:1566.5px;top:946.27px;font-size:35px;line-height:50.2px;">Template Composition:</div>
<div class="t" style="left:1611.0px;top:996.82px;font-size:35px;line-height:50.1px;"><b>Geometry Templates:</b> Basic<br>geometries, defined from scratch<br><b>Concept Templates:</b> Complex<br>shapes, composed by existing<br>templates</div>
<svg style="left:2100px;top:690px" width="340" height="240" viewBox="0 0 1020 720" ><defs><linearGradient id="pdf" x1="0" y1="0" x2="1" y2="0"><stop offset="0" stop-color="#E4E4E4"/><stop offset="1" stop-color="#C4C4C4"/></linearGradient><linearGradient id="pdc" x1="0" y1="0" x2="1" y2="1"><stop offset="0" stop-color="#6E6E6E"/><stop offset="1" stop-color="#9A9A9A"/></linearGradient></defs><path d="M372 275 Q300 215 245 290 Q225 345 250 400 L300 440 L345 458 Z" fill="url(#pdc)"/><ellipse cx="388" cy="367" rx="78" ry="94" fill="#D8D8D8"/><path d="M300 358 L330 375 L336 458 L300 432Z" fill="#9C9C9C"/><path d="M312 350 L815 262 L852 286 L330 376Z" fill="#8E8E8E"/><path d="M320 362 L835 272" stroke="#C8C8C8" stroke-width="5"/><path d="M330 376 L852 286 L858 342 L336 458Z" fill="url(#pdf)"/><path d="M75 340 L240 311 M285 301 L338 292" stroke="#4472C4" stroke-width="9" fill="none" stroke-dasharray="56 28"/><path d="M95 521 L360 476" stroke="#4472C4" stroke-width="9" fill="none" stroke-dasharray="56 28"/><path d="M403 285 L403 668 M583 255 L583 632" stroke="#4472C4" stroke-width="9" fill="none" stroke-dasharray="12 12"/><path d="M345 225 L470 280" stroke="#4472C4" stroke-width="9" fill="none"/><circle cx="345" cy="225" r="19" fill="#4472C4"/><circle cx="470" cy="280" r="19" fill="#4472C4"/><path d="M325 383 L842 292" stroke="#4472C4" stroke-width="9" fill="none"/><circle cx="325" cy="383" r="19" fill="#4472C4"/><circle cx="842" cy="292" r="19" fill="#4472C4"/><path d="M822 250 L862 268" stroke="#4472C4" stroke-width="9" fill="none"/><circle cx="822" cy="250" r="19" fill="#4472C4"/><circle cx="862" cy="268" r="19" fill="#4472C4"/><path d="M862 292 L862 352" stroke="#4472C4" stroke-width="9" fill="none"/><circle cx="862" cy="292" r="19" fill="#4472C4"/><circle cx="862" cy="352" r="19" fill="#4472C4"/><path d="M175 335 L175 500" stroke="#4472C4" stroke-width="9" fill="none"/><circle cx="175" cy="335" r="19" fill="#4472C4"/><circle cx="175" cy="500" r="19" fill="#4472C4"/><path d="M405 615 L583 580" stroke="#4472C4" stroke-width="9" fill="none"/><circle cx="405" cy="615" r="19" fill="#4472C4"/><circle cx="583" cy="580" r="19" fill="#4472C4"/><text x="424" y="192" font-family="Liberation Serif, serif" font-style="italic" fill="#000" font-size="62">A<tspan font-size="44" dy="12">l</tspan></text><text x="620" y="264" font-family="Liberation Serif, serif" font-style="italic" fill="#000" font-size="62">L<tspan font-size="44" dy="12">l</tspan></text><text x="850" y="212" font-family="Liberation Serif, serif" font-style="italic" fill="#000" font-size="62">L<tspan font-size="44" dy="12">w</tspan></text><text x="918" y="357" font-family="Liberation Serif, serif" font-style="italic" fill="#000" font-size="62">L<tspan font-size="44" dy="12">h</tspan></text><text x="470" y="680" font-family="Liberation Serif, serif" font-style="italic" fill="#000" font-size="62">O</text></svg>
<svg style="left:0px;top:0px" width="4320" height="2880" viewBox="0 0 4320 2880" ><path d="M2153.3 1082.0 L2203.0 1108.2" stroke="#FF0000" stroke-width="8"/><path d="M2222.5 1118.5 L2197.9 1118.0 L2208.2 1098.5Z" fill="#FF0000"/><path d="M2153.3 1081.0 L2216.9 1069.4" stroke="#00B050" stroke-width="8"/><path d="M2238.5 1065.5 L2218.8 1080.3 L2214.9 1058.6Z" fill="#00B050"/><path d="M2153.3 1084.0 L2153.8 1016.5" stroke="#0070C0" stroke-width="8.5"/><path d="M2154.0 992.5 L2165.3 1016.6 L2142.3 1016.4Z" fill="#0070C0"/><text x="2131" y="1013" font-family="Liberation Serif, serif" font-style="italic" font-weight="700" font-size="14" fill="#000">Z</text><text x="2220" y="1044" font-family="Liberation Serif, serif" font-style="italic" font-weight="700" font-size="14" fill="#000">Y</text><text x="2185" y="1131" font-family="Liberation Serif, serif" font-style="italic" font-weight="700" font-size="14" fill="#000">X</text></svg>
<div class="t se" style="left:2469.0px;top:715.86px;font-size:23.3px;line-height:27.96px;width:400px;text-align:center;color:#000"><b>Parameters</b></div>
<div style="position:absolute;left:2447.5px;top:746.5px;width:436px;height:124px;background:#A3B9E3;border:2.5px solid #2F5597;border-radius:13px"></div>
<div class="t" style="left:2445.5px;top:769.78px;font-size:16.4px;line-height:19.68px;width:440px;text-align:center;color:#000;word-spacing:0.5px"><i class="se">A<sub style="font-size:72%;vertical-align:-0.22em;line-height:0">l</sub></i>: Axis Length;&nbsp;&nbsp;&nbsp;<i class="se">A<sub style="font-size:72%;vertical-align:-0.22em;line-height:0">d</sub></i>: Axis Diameter;</div>
<div class="t" style="left:2445.5px;top:802.48px;font-size:16.4px;line-height:19.68px;width:440px;text-align:center;color:#000;word-spacing:0.5px"><i class="se">L<sub style="font-size:72%;vertical-align:-0.22em;line-height:0">l</sub></i>: Lever Length;&nbsp; <i class="se">L<sub style="font-size:72%;vertical-align:-0.22em;line-height:0">w</sub></i>: Lever Width;&nbsp; <i class="se">L<sub style="font-size:72%;vertical-align:-0.22em;line-height:0">h</sub></i>: Lever Height;</div>
<div class="t" style="left:2446.0px;top:835.28px;font-size:16.4px;line-height:19.68px;width:440px;text-align:center;color:#000"><i class="se">O</i>: Axis-Lever Offset</div>
<div class="t se" style="left:2383.3px;top:899.16px;font-size:23.3px;line-height:27.96px;width:400px;text-align:center;color:#000"><b>Constructor</b></div>
<div style="position:absolute;left:2285.5px;top:932.5px;width:605px;height:273px;background:#A3B9E3;border:3px solid #2F5597;border-radius:24px"></div>
<div class="t mo" style="left:2327.7px;top:962.94px;font-size:16.57px;line-height:19.88px;color:#000"><b>def __init__(self,<i class="se">A<sub style="font-size:72%;vertical-align:-0.22em;line-height:0">l</sub></i>,<i class="se">A<sub style="font-size:72%;vertical-align:-0.22em;line-height:0">d</sub></i>,<i class="se">L<sub style="font-size:72%;vertical-align:-0.22em;line-height:0">l</sub></i>,<i class="se">L<sub style="font-size:72%;vertical-align:-0.22em;line-height:0">w</sub></i>,<i class="se">L<sub style="font-size:72%;vertical-align:-0.22em;line-height:0">h</sub></i>, <i class="se">O</i>)</b></div>
<div class="t mo" style="left:2368.3px;top:995.64px;font-size:16.57px;line-height:19.88px;color:#000"><b>axis_size = [<i class="se">A<sub style="font-size:72%;vertical-align:-0.22em;line-height:0">l</sub></i>, <i class="se">A<sub style="font-size:72%;vertical-align:-0.22em;line-height:0">d</sub></i>]</b></div>
<div class="t mo" style="left:2368.3px;top:1028.84px;font-size:16.57px;line-height:19.88px;color:#000"><b>axis_position = [0, 0, 0]</b></div>
<div class="t mo" style="left:2368.3px;top:1062.14px;font-size:16.57px;line-height:19.88px;color:#000"><b>lever_size = [<i class="se">L<sub style="font-size:72%;vertical-align:-0.22em;line-height:0">l</sub></i>, <i class="se">L<sub style="font-size:72%;vertical-align:-0.22em;line-height:0">w</sub></i>, <i class="se">L<sub style="font-size:72%;vertical-align:-0.22em;line-height:0">h</sub></i>]</b></div>
<div class="t mo" style="left:2368.3px;top:1094.94px;font-size:16.57px;line-height:19.88px;color:#000"><b>lever_position = [(<i class="se">A<sub style="font-size:72%;vertical-align:-0.22em;line-height:0">l</sub></i>+<i class="se">L<sub style="font-size:72%;vertical-align:-0.22em;line-height:0">w</sub></i>)/2, <i class="se">O</i>, 0]</b></div>
<div class="t mo" style="left:2368.3px;top:1127.94px;font-size:16.57px;line-height:19.88px;color:#000"><b>self.axis = Cylinder(axis_size, axis_position)</b></div>
<div class="t mo" style="left:2368.3px;top:1160.64px;font-size:16.57px;line-height:19.88px;color:#000"><b>self.lever = Cuboid(lever_size, lever_position)</b></div>
<svg style="left:1540px;top:1250px" width="1360" height="410" viewBox="0 0 4080 1230" ><defs><radialGradient id="sph" cx="0.5" cy="0.5" r="0.5"><stop offset="0" stop-color="#fff"/><stop offset="0.06" stop-color="#fff"/><stop offset="0.12" stop-color="#E2E2E2"/><stop offset="0.6" stop-color="#B4B4B4"/><stop offset="0.92" stop-color="#6A6A6A"/><stop offset="1" stop-color="#2E2E2E"/></radialGradient><linearGradient id="cone" x1="0" y1="0" x2="1" y2="0"><stop offset="0" stop-color="#6E6E6E"/><stop offset="0.5" stop-color="#F4F4F4"/><stop offset="0.56" stop-color="#fff"/><stop offset="1" stop-color="#7A7A7A"/></linearGradient><linearGradient id="cyl" x1="0" y1="0" x2="1" y2="0"><stop offset="0" stop-color="#4E4E4E"/><stop offset="0.45" stop-color="#DCDCDC"/><stop offset="1" stop-color="#6A6A6A"/></linearGradient><linearGradient id="pri" x1="0" y1="0" x2="1" y2="1"><stop offset="0" stop-color="#A8A8A8"/><stop offset="1" stop-color="#E4E4E4"/></linearGradient><linearGradient id="cul" x1="0" y1="0" x2="1" y2="0"><stop offset="0" stop-color="#5E5E5E"/><stop offset="1" stop-color="#8C8C8C"/></linearGradient><linearGradient id="cur" x1="0" y1="0" x2="1" y2="0"><stop offset="0" stop-color="#8E8E8E"/><stop offset="1" stop-color="#C4C4C4"/></linearGradient><linearGradient id="tor" x1="0" y1="0" x2="0" y2="1"><stop offset="0" stop-color="#8A8A8A"/><stop offset="0.35" stop-color="#F2F2F2"/><stop offset="1" stop-color="#8A8A8A"/></linearGradient><linearGradient id="lid" x1="0" y1="0" x2="0" y2="1"><stop offset="0" stop-color="#3C5672"/><stop offset="1" stop-color="#93D0FC"/></linearGradient><linearGradient id="door" x1="0" y1="0" x2="1" y2="0"><stop offset="0" stop-color="#84ADDA"/><stop offset="1" stop-color="#56789E"/></linearGradient><linearGradient id="cabl" x1="0" y1="0" x2="1" y2="0"><stop offset="0" stop-color="#7098CC"/><stop offset="1" stop-color="#5A80B0"/></linearGradient><linearGradient id="cabf" x1="0" y1="0" x2="0" y2="1"><stop offset="0" stop-color="#7FA9DC"/><stop offset="1" stop-color="#93C4F4"/></linearGradient></defs><circle cx="207" cy="218" r="122" fill="url(#sph)"/><path d="M728 95 L838 298 Q840 355 730 356 Q620 355 622 298Z" fill="url(#cone)"/><path d="M1163 130 L1330 130 L1322 335 Q1320 366 1247 367 Q1176 366 1172 335Z" fill="url(#cyl)"/><ellipse cx="1246.5" cy="130" rx="83.5" ry="34" fill="#3C3C3C"/><path d="M1688 145 L1822 185 L1808 358 L1692 322Z" fill="url(#pri)"/><path d="M1688 145 L1800 113 L1822 185Z" fill="#5A5A5A"/><path d="M2115 150 L2242 132 L2350 160 L2212 190Z" fill="#2E2E2E"/><path d="M2115 150 L2212 190 L2210 362 L2128 290Z" fill="url(#cul)"/><path d="M2212 190 L2350 160 L2335 300 L2210 362Z" fill="url(#cur)"/><ellipse cx="2732" cy="245" rx="134" ry="56" fill="none" stroke="#555" stroke-width="38"/><ellipse cx="2732" cy="245" rx="134" ry="56" fill="none" stroke="url(#tor)" stroke-width="34"/><path d="M3152 220 L3170 300 Q3195 360 3280 360 Q3370 358 3392 300 L3408 220Z" fill="url(#cyl)"/><ellipse cx="3280" cy="218" rx="128" ry="78" fill="#8E8E8E"/><ellipse cx="3280" cy="224" rx="86" ry="44" fill="#B8B8B8"/><path d="M3208 245 Q3280 195 3352 245 Q3280 290 3208 245Z" fill="#fff"/><path d="M3668 155 L3770 270 L3768 350 L3680 235Z" fill="#5C5C5C"/><path d="M3770 270 L3948 208 L3928 270 L3768 350Z" fill="#7C7C7C"/><path d="M3668 155 L3828 108 L3948 208 L3770 270Z" fill="#828282"/><path d="M3710 166 L3826 130 L3908 200 L3780 243Z" fill="#B0B0B0"/><path d="M3750 216 L3830 190 L3876 226 L3788 253Z" fill="#fff"/><path d="M60 415 L4048 415" stroke="#000" stroke-width="12" stroke-dasharray="58 30"/><path d="M498 563 L660 563 L660 542 L728 572 L660 602 L660 581 L498 581Z" fill="#000"/><path d="M502 879 L662 879 L662 858 L730 888 L662 918 L662 897 L502 897Z" fill="#000"/><path d="M2598 562 L2760 562 L2760 541 L2828 571 L2760 601 L2760 580 L2598 580Z" fill="#000"/><path d="M2598 879 L2760 879 L2760 858 L2828 888 L2760 918 L2760 897 L2598 897Z" fill="#000"/><ellipse cx="252" cy="595" rx="130" ry="32" fill="url(#lid)"/><ellipse cx="252" cy="522" rx="22" ry="6" fill="#555"/><ellipse cx="252" cy="549" rx="10" ry="6" fill="#4FC4B8"/><ellipse cx="968" cy="563" rx="130" ry="55" fill="url(#lid)"/><ellipse cx="1363" cy="568" rx="126" ry="52" fill="url(#lid)"/><ellipse cx="1747" cy="565" rx="125" ry="58" fill="url(#lid)"/><path d="M948 518 L988 518 L972 538 L964 538Z" fill="#9A9A9A"/><path d="M1342 528 Q1363 518 1386 528 L1378 550 L1350 550Z" fill="#A8A8A8"/><ellipse cx="1747" cy="528" rx="32" ry="11" fill="#8FD8C0"/><path d="M1725 505 Q1747 496 1770 505 L1768 522 L1728 522Z" fill="#8A8A8A"/><path d="M858.0 810.1 L965.5 787.0 L1073.0 812.4 L959.0 837.8Z" fill="#25313E"/><path d="M858.0 810.1 L959.0 837.8 L954.8 1018.0 L864.5 964.9Z" fill="url(#cabl)"/><path d="M959.0 837.8 L1073.0 812.4 L1066.5 964.9 L954.8 1018.0Z" fill="url(#cabf)"/><path d="M974.1 854.0 L1058.0 835.5 L1053.7 955.6 L969.8 997.2Z" fill="#52759E"/><path d="M972.0 872.5 L1051.5 895.6 L1051.5 907.1 L969.8 902.5Z" fill="#858585"/><path d="M969.8 902.5 L1051.5 907.1 L1051.5 914.0 L969.8 911.7Z" fill="#C8C8C8"/><path d="M1253.0 808.2 L1360.5 785.0 L1468.0 810.5 L1354.0 836.0Z" fill="#25313E"/><path d="M1253.0 808.2 L1354.0 836.0 L1349.8 1017.0 L1259.5 963.6Z" fill="url(#cabl)"/><path d="M1354.0 836.0 L1468.0 810.5 L1461.5 963.6 L1349.8 1017.0Z" fill="url(#cabf)"/><path d="M1369.1 852.3 L1453.0 833.7 L1448.7 954.4 L1364.8 996.1Z" fill="#52759E"/><path d="M1367.0 863.9 L1446.5 887.1 L1446.5 898.7 L1364.8 894.0Z" fill="#858585"/><path d="M1364.8 894.0 L1446.5 898.7 L1446.5 905.6 L1364.8 903.3Z" fill="#C8C8C8"/><path d="M1657.0 790.4 L1746.0 763.0 L1835.0 793.1 L1740.7 823.3Z" fill="#25313E"/><path d="M1657.0 790.4 L1740.7 823.3 L1737.1 1037.0 L1662.3 974.0Z" fill="url(#cabl)"/><path d="M1740.7 823.3 L1835.0 793.1 L1829.7 974.0 L1737.1 1037.0Z" fill="url(#cabf)"/><path d="M1753.1 842.5 L1822.5 820.5 L1819.0 963.0 L1749.6 1012.3Z" fill="#52759E"/><path d="M1751.3 911.0 L1817.2 938.4 L1817.2 952.1 L1749.6 946.6Z" fill="#858585"/><path d="M1749.6 946.6 L1817.2 952.1 L1817.2 960.3 L1749.6 957.5Z" fill="#C8C8C8"/><path d="M118 815 L186 787 L186 915 L124 945Z" fill="#4A78C8"/><path d="M160 826 L218 793 L308 804 L262 838Z" fill="#34506E"/><path d="M160 826 L262 838 L258 972 L160 950Z" fill="#9CCBF6"/><path d="M262 838 L308 804 L308 930 L258 972Z" fill="#6E98C8"/><path d="M272 850 L300 828 L300 918 L270 945Z" fill="#9CCBF6"/><path d="M305 905 L372 876 L428 890 L398 922 L300 912Z" fill="#6E6E6E"/><path d="M300 912 L398 922 L398 934 L300 922Z" fill="#D0D0D0"/><path d="M2262 530 L2402 475 L2402 650 L2270 740Z" fill="url(#door)"/><rect x="2420" y="552" width="22" height="8" fill="#4A78D0"/><rect x="2420" y="595" width="22" height="8" fill="#6EC8B8"/><rect x="2469" y="550" width="8" height="68" fill="#B8B8B8"/><path d="M3010 548 L3150 453 L3150 630 L3020 727Z" fill="url(#door)"/><rect x="3156" y="522" width="8" height="58" fill="#A8A8A8"/><rect x="3138" y="527" width="18" height="7" fill="#4A78D0"/><rect x="3136" y="564" width="20" height="7" fill="#7ED8C0"/><path d="M3403 548 L3550 455 L3548 640 L3413 737Z" fill="url(#door)"/><path d="M3458 558 L3528 512" stroke="#A0A0A0" stroke-width="9"/><circle cx="3458" cy="556" r="5" fill="#4A78D0"/><circle cx="3526" cy="510" r="5" fill="#9EE0D0"/><path d="M3785 520 L3905 445 L3905 660 L3795 760Z" fill="url(#door)"/><rect x="3897" y="486" width="9" height="166" fill="#C0C0C0"/><rect x="3888" y="486" width="10" height="12" fill="#5A88E0"/><rect x="3888" y="642" width="10" height="12" fill="#9EE0D0"/><rect x="2325" y="795" width="20" height="130" fill="#4B80DC"/><path d="M2208 975 L2302 942 L2308 955 L2212 987Z" fill="#C8C8C8"/><path d="M2358 945 L2438 965 L2435 976 L2364 960Z" fill="#6EC4D4"/><path d="M2338 955 L2352 950 L2372 1026 L2358 1030Z" fill="#4E78A8"/><path d="M3053 790 L3075 790 L3073 932 L3058 932Z" fill="#4B80DC"/><path d="M2955 958 L3058 925 L3062 938 L2960 970Z" fill="#C8C8C8"/><path d="M3070 925 L3157 945 L3154 958 L3068 940Z" fill="#6EC4D4"/><path d="M3058 935 L3074 932 L3098 1008 L3082 1012Z" fill="#4E78A8"/><path d="M3338 935 L3447 940 L3447 958 L3335 950Z" fill="#A0A0A0"/><path d="M3483 930 L3528 908 L3558 918 L3500 952Z" fill="#5E9EA8"/><path d="M3447 955 L3492 950 L3530 995 L3480 1011Z" fill="#6E9CD8"/><rect x="3447" y="808" width="36" height="142" fill="#4B80DC"/><ellipse cx="3465" cy="808" rx="18" ry="6" fill="#1E2E4E"/><ellipse cx="3465" cy="950" rx="18" ry="6" fill="#4B80DC"/><path d="M3778 882 L3825 905 L3825 926 L3778 900Z" fill="#5E5E5E"/><path d="M3708 940 L3825 920 L3825 950 L3710 972Z" fill="#A8F0EE"/><path d="M3855 915 L3952 895 L3952 920 L3855 945Z" fill="#8EBCF0"/><path d="M3845 925 L3925 962 L3925 995 L3842 952Z" fill="#5BA4AE"/><rect x="3825" y="832" width="30" height="118" fill="#4B80DC"/><ellipse cx="3840" cy="832" rx="15" ry="5" fill="#1E2E4E"/></svg>
<div class="t cap" style="left:1201.0px;top:1617.04px;font-size:25px;line-height:30.0px;width:2000px;text-align:center;">Shape instances of geometry [Top] and concept [Bottom] templates with specific parameters.</div>
<div class="bar o" style="left:1559px;top:1676.9px;width:1330px;height:75.7px;border-radius:12.6px"></div>
<div class="t" style="left:1568.5px;top:1687.43px;font-size:46.67px;line-height:56.0px;color:#000"><b>Conceptualization Platform</b></div>
<svg style="left:0px;top:0px" width="4320" height="2880" viewBox="0 0 4320 2880" ><defs><linearGradient id="gYG" x1="0" y1="0" x2="1" y2="0"><stop offset="0" stop-color="#FFC000"/><stop offset="0.45" stop-color="#F2C010"/><stop offset="1" stop-color="#70AD47"/></linearGradient><linearGradient id="gMG" x1="0" y1="0" x2="1" y2="0"><stop offset="0" stop-color="#F030C8"/><stop offset="0.35" stop-color="#F030C8"/><stop offset="1" stop-color="#8CD050"/></linearGradient><linearGradient id="gGO" x1="0" y1="0" x2="1" y2="0"><stop offset="0" stop-color="#92D050"/><stop offset="1" stop-color="#F4A040"/></linearGradient><linearGradient id="gGB" x1="0" y1="0" x2="1" y2="0"><stop offset="0" stop-color="#92D050"/><stop offset="0.6" stop-color="#5B9BD5"/><stop offset="1" stop-color="#5B9BD5"/></linearGradient><linearGradient id="gBB" x1="0" y1="0" x2="1" y2="0"><stop offset="0" stop-color="#5B9BD5"/><stop offset="1" stop-color="#5B9BD5"/></linearGradient></defs><path d="M1634.2 2104 L1634.2 1853 L2040 1853" fill="none" stroke="#ED7D31" stroke-width="2.6"/><path d="M2047.5 1853 L2036 1848 L2036 1858Z" fill="#ED7D31"/><rect x="1559.5" y="2105.7" width="153.0" height="183.1" fill="#fff" stroke="url(#gYG)" stroke-width="4"/><rect x="1714.6" y="2105.7" width="131.2" height="183.1" fill="#fff" stroke="url(#gMG)" stroke-width="4"/><rect x="1847.5" y="2105.4" width="156.0" height="91.2" fill="#fff" stroke="url(#gGO)" stroke-width="3.5"/><rect x="1847.8" y="2198.4" width="155.5" height="90.4" fill="#fff" stroke="url(#gBB)" stroke-width="4"/><text font-family="Liberation Sans, sans-serif" font-size="3.6" fill="#333"><tspan x="1562" y="2116">Mixed View</tspan><tspan x="1850" y="2112">Target Object</tspan><tspan x="1850" y="2204.5">Template Rendering</tspan></text><rect x="1948" y="2106" width="52" height="1.6" fill="#000"/><g transform="translate(1648.0,2200.0) rotate(0) scale(1.000)"><path d="M0 0 L-44 -22" stroke="#F0B090" stroke-width="0.6"/><path d="M0 0 L26 -17" stroke="#9CC0F0" stroke-width="0.6"/><path d="M0 0 L0 -8" stroke="#70D070" stroke-width="0.7"/><path d="M-4 -4 L64 18 L62 20 L-2 6Z" fill="#A9A9A9"/><path d="M-6 -1 L45 38 L43 40 L-1 8Z" fill="#7C7C7C"/><path d="M-20 -3 L2 -3 L4 4 L-18 3Z" fill="#A9A9A9"/><path d="M-10 -11 L2 -4 L-2 3 L-13 -5Z" fill="#7C7C7C"/><ellipse cx="-35" cy="-2" rx="17" ry="7.5" fill="none" stroke="#A9A9A9" stroke-width="4.2" transform="rotate(-8 -35 -2)"/><ellipse cx="-13" cy="-14" rx="12" ry="7" fill="none" stroke="#7C7C7C" stroke-width="4" transform="rotate(-32 -13 -14)"/></g><g transform="translate(1922.0,2155.0) rotate(0) scale(0.720)"><path d="M0 0 L-44 -22" stroke="#F0B090" stroke-width="0.6"/><path d="M0 0 L26 -17" stroke="#9CC0F0" stroke-width="0.6"/><path d="M0 0 L0 -8" stroke="#70D070" stroke-width="0.7"/><path d="M-4 -4 L64 18 L62 20 L-2 6Z" fill="#A9A9A9"/><path d="M-6 -1 L45 38 L43 40 L-1 8Z" fill="#7C7C7C"/><path d="M-20 -3 L2 -3 L4 4 L-18 3Z" fill="#A9A9A9"/><path d="M-10 -11 L2 -4 L-2 3 L-13 -5Z" fill="#7C7C7C"/><ellipse cx="-35" cy="-2" rx="17" ry="7.5" fill="none" stroke="#A9A9A9" stroke-width="4.2" transform="rotate(-8 -35 -2)"/><ellipse cx="-13" cy="-14" rx="12" ry="7" fill="none" stroke="#7C7C7C" stroke-width="4" transform="rotate(-32 -13 -14)"/></g><path d="M1925.5 2243.5 L1904 2232.5" stroke="#F0B090" stroke-width="0.6"/><path d="M1925.5 2243.5 L1947 2232" stroke="#9CC0F0" stroke-width="0.6"/><text x="1779.5" y="2116" font-family="Liberation Sans, sans-serif" font-size="4" fill="#333" text-anchor="middle">Annotation Workflow</text><rect x="1731.4" y="2118.5" width="30.7" height="4.9" rx="1" fill="#2E75B6"/><rect x="1773.6" y="2118.5" width="24.6" height="4.9" rx="1" fill="#8FD0EE"/><rect x="1808.2" y="2118.5" width="12.9" height="4.9" rx="1" fill="#5B9BD5"/><text y="2122.0" font-family="Liberation Sans, sans-serif" font-size="2.59" fill="#fff" text-anchor="middle"><tspan x="1746.7">Next Question (A)</tspan><tspan x="1785.9">Optimize (O)</tspan><tspan x="1814.6">Save</tspan></text><text font-family="Liberation Sans, sans-serif" font-size="3.4" fill="#222"><tspan x="1718" y="2130">Which of the components are present in this object?</tspan><tspan x="1718" y="2135.5" font-size="2.6">☑ shaft</tspan><tspan x="1718" y="2139.5" font-size="2.6">☑ blade</tspan><tspan x="1718" y="2143.5" font-size="2.6">☑ handle</tspan><tspan x="1718" y="2152" font-size="2.6" font-weight="700">Your Confidence for the question: 5</tspan></text><path d="M1718 2155.5 L1843 2155.5" stroke="#999" stroke-width="0.5"/><text x="1779.5" y="2162" font-family="Liberation Sans, sans-serif" font-size="3.8" fill="#333" text-anchor="middle">Definition and Examples</text><text font-family="Liberation Sans, sans-serif" font-size="2.8" fill="#222"><tspan x="1718" y="2168">Name: </tspan><tspan fill="#E06010" font-weight="700">blade</tspan><tspan x="1718" y="2173" font-size="2.3">Definition: The blade of scissors features a sharp, curved edge, facilitating precise cutting and</tspan><tspan x="1718" y="2176.3" font-size="2.3">effortless trimming of various materials.</tspan></text><g transform="translate(1741.0,2195.0) rotate(0) scale(0.500)"><path d="M-4 -4 L64 18 L62 20 L-2 6Z" fill="#8B1A1A"/><path d="M-6 -1 L45 38 L43 40 L-1 8Z" fill="#701010"/><path d="M-20 -3 L2 -3 L4 4 L-18 3Z" fill="#A9A9A9"/><path d="M-10 -11 L2 -4 L-2 3 L-13 -5Z" fill="#888"/><ellipse cx="-35" cy="-2" rx="17" ry="7.5" fill="none" stroke="#A9A9A9" stroke-width="4.2" transform="rotate(-8 -35 -2)"/><ellipse cx="-13" cy="-14" rx="12" ry="7" fill="none" stroke="#888" stroke-width="4" transform="rotate(-32 -13 -14)"/></g><g transform="translate(1804.0,2195.0) rotate(0) scale(0.500)"><path d="M-4 -4 L64 18 L62 20 L-2 6Z" fill="#8B1A1A"/><path d="M-6 -1 L45 38 L43 40 L-1 8Z" fill="#701010"/><path d="M-20 -3 L2 -3 L4 4 L-18 3Z" fill="#A9A9A9"/><path d="M-10 -11 L2 -4 L-2 3 L-13 -5Z" fill="#888"/><ellipse cx="-35" cy="-2" rx="17" ry="7.5" fill="none" stroke="#A9A9A9" stroke-width="4.2" transform="rotate(-8 -35 -2)"/><ellipse cx="-13" cy="-14" rx="12" ry="7" fill="none" stroke="#888" stroke-width="4" transform="rotate(-32 -13 -14)"/></g><text font-family="Liberation Sans, sans-serif" font-size="2.6" fill="#E00000" font-weight="700"><tspan x="1757" y="2184">blade_0</tspan><tspan x="1820" y="2184">blade_1</tspan></text><rect x="1697.0" y="1905.2" width="171.0" height="150.3" fill="#fff" stroke="url(#gMG)" stroke-width="3.6"/><text x="1785" y="1912.5" font-family="Liberation Sans, sans-serif" font-size="5.6" fill="#222" text-anchor="middle">Annotation Workflow</text><rect x="1718.4" y="1917.0" width="40.8" height="6.8" rx="1" fill="#2E75B6"/><rect x="1774.5" y="1917.0" width="32.6" height="6.8" rx="1" fill="#8FD0EE"/><rect x="1820.4" y="1917.0" width="17.1" height="6.8" rx="1" fill="#5B9BD5"/><text y="1921.9" font-family="Liberation Sans, sans-serif" font-size="3.60" fill="#fff" text-anchor="middle"><tspan x="1738.8">Next Question (A)</tspan><tspan x="1790.8">Optimize (O)</tspan><tspan x="1829.0">Save</tspan></text><text font-family="Liberation Sans, sans-serif" font-size="4.7" fill="#222"><tspan x="1700" y="1933.0">Please select the most appropriate concept template for the</tspan><tspan x="1700" y="1942.0" fill="#E00000" font-weight="700" font-size="6">shaft</tspan><tspan> of this object.</tspan><tspan x="1700" y="1950.5" font-size="3.2" font-weight="700">No.</tspan></text><rect x="1708" y="1946.5" width="17" height="5" fill="#fff" stroke="#888" stroke-width="0.5"/><path d="M1697 1955.5 L1868 1955.5" stroke="#ED7D31" stroke-width="2"/><text x="1785" y="1963.1" font-family="Liberation Sans, sans-serif" font-size="5.6" fill="#222" text-anchor="middle">Annotation Workflow</text><rect x="1718.4" y="1967.6" width="40.8" height="6.8" rx="1" fill="#2E75B6"/><rect x="1774.5" y="1967.6" width="32.6" height="6.8" rx="1" fill="#8FD0EE"/><rect x="1820.4" y="1967.6" width="17.1" height="6.8" rx="1" fill="#5B9BD5"/><text y="1972.5" font-family="Liberation Sans, sans-serif" font-size="3.60" fill="#fff" text-anchor="middle"><tspan x="1738.8">Next Question (A)</tspan><tspan x="1790.8">Optimize (O)</tspan><tspan x="1829.0">Save</tspan></text><text font-family="Liberation Sans, sans-serif" font-size="4.7" fill="#222"><tspan x="1700" y="1983.6">Please select the most appropriate concept template for the</tspan><tspan x="1700" y="1992.6" fill="#E00000" font-weight="700" font-size="6">blade</tspan><tspan> of this object.</tspan><tspan x="1700" y="2001.1" font-size="3.2" font-weight="700">No.</tspan></text><rect x="1708" y="1997.1" width="17" height="5" fill="#fff" stroke="#888" stroke-width="0.5"/><path d="M1697 2006.1 L1868 2006.1" stroke="#ED7D31" stroke-width="2"/><text x="1785" y="2013.7" font-family="Liberation Sans, sans-serif" font-size="5.6" fill="#222" text-anchor="middle">Annotation Workflow</text><rect x="1718.4" y="2018.2" width="40.8" height="6.8" rx="1" fill="#2E75B6"/><rect x="1774.5" y="2018.2" width="32.6" height="6.8" rx="1" fill="#8FD0EE"/><rect x="1820.4" y="2018.2" width="17.1" height="6.8" rx="1" fill="#5B9BD5"/><text y="2023.1" font-family="Liberation Sans, sans-serif" font-size="3.60" fill="#fff" text-anchor="middle"><tspan x="1738.8">Next Question (A)</tspan><tspan x="1790.8">Optimize (O)</tspan><tspan x="1829.0">Save</tspan></text><text font-family="Liberation Sans, sans-serif" font-size="4.7" fill="#222"><tspan x="1700" y="2034.2">Please select the most appropriate concept template for the</tspan><tspan x="1700" y="2043.2" fill="#E00000" font-weight="700" font-size="6">handle</tspan><tspan> of this object.</tspan><tspan x="1700" y="2051.7" font-size="3.2" font-weight="700">No.</tspan></text><rect x="1708" y="2047.7" width="17" height="5" fill="#fff" stroke="#888" stroke-width="0.5"/><text x="1788.5" y="1892" font-family="Liberation Serif, serif" font-weight="700" font-size="20.2" fill="#000" text-anchor="middle">Choose Templates for the Part</text><path d="M1782.5 2103 L1782.5 2060" stroke="#4472C4" stroke-width="2.6"/><path d="M1776 2067 L1782.5 2058.5 L1789 2067" fill="none" stroke="#4472C4" stroke-width="2.6"/><path d="M1869.8 2017.3 L2044 2017.3" stroke="#4472C4" stroke-width="2.6"/><path d="M2037 2010.5 L2046 2017.3 L2037 2024" fill="none" stroke="#4472C4" stroke-width="2.6"/><text font-family="Liberation Serif, serif" font-weight="700" font-size="20.2" fill="#000" text-anchor="middle"><tspan x="1928" y="2072.5">Target</tspan><tspan x="1928" y="2096.5">View</tspan><tspan x="1639.5" y="2313.5">Mixed</tspan><tspan x="1639.5" y="2337.5">View</tspan><tspan x="1774.5" y="2314.5">Work</tspan><tspan x="1774.5" y="2338.7">Space</tspan><tspan x="1925" y="2314.5">Template</tspan><tspan x="1925" y="2338.7">Rendering</tspan></text><path d="M2005 2243.3 L2032 2243.3" stroke="#2DB5A5" stroke-width="2.6"/><path d="M2043 2243.3 L2028 2237.5 L2028 2249Z" fill="#2DB5A5"/><defs><linearGradient id="da1" gradientUnits="userSpaceOnUse" x1="0" y1="1907" x2="0" y2="2168"><stop offset="0" stop-color="#F49A8A"/><stop offset="0.5" stop-color="#E060B0"/><stop offset="1" stop-color="#8A9A7A"/></linearGradient></defs><path d="M2096.9 1921 L2096.9 2154 M2100.1 1921 L2100.1 2154" stroke="url(#da1)" stroke-width="1.1" stroke-dasharray="6 2.5" fill="none"/><path d="M2098.5 1907 L2105.0 1926 L2092.0 1926Z" fill="#F4A080"/><path d="M2098.5 2168 L2105.0 2149 L2092.0 2149Z" fill="#8AA07A"/><rect x="2048.6" y="1802.1" width="175.1" height="103.0" fill="#fff" stroke="url(#gYG)" stroke-width="4"/><g transform="translate(2128.0,1842.0) rotate(0) scale(1.050)"><path d="M0 0 L-44 -22" stroke="#F0B090" stroke-width="0.6"/><path d="M0 0 L26 -17" stroke="#9CC0F0" stroke-width="0.6"/><path d="M0 0 L0 -8" stroke="#70D070" stroke-width="0.7"/><path d="M-4 -4 L64 18 L62 20 L-2 6Z" fill="#A9A9A9"/><path d="M-6 -1 L45 38 L43 40 L-1 8Z" fill="#7C7C7C"/><path d="M-20 -3 L2 -3 L4 4 L-18 3Z" fill="#1F4E6E"/><path d="M-10 -11 L2 -4 L-2 3 L-13 -5Z" fill="#1F4E6E"/><ellipse cx="-35" cy="-2" rx="17" ry="7.5" fill="none" stroke="#A9A9A9" stroke-width="4.2" transform="rotate(-8 -35 -2)"/><ellipse cx="-13" cy="-14" rx="12" ry="7" fill="none" stroke="#7C7C7C" stroke-width="4" transform="rotate(-32 -13 -14)"/></g><rect x="2156.5" y="1820.5" width="171.9" height="97.0" fill="#fff" stroke="url(#gYG)" stroke-width="4"/><g transform="translate(2246.0,1856.0) rotate(0) scale(0.920)"><path d="M0 0 L-44 -22" stroke="#F0B090" stroke-width="0.6"/><path d="M0 0 L26 -17" stroke="#9CC0F0" stroke-width="0.6"/><path d="M0 0 L0 -8" stroke="#70D070" stroke-width="0.7"/><path d="M-4 -4 L64 18 L62 20 L-2 6Z" fill="#1F4E6E"/><path d="M-6 -1 L45 38 L43 40 L-1 8Z" fill="#173C56"/><path d="M-20 -3 L2 -3 L4 4 L-18 3Z" fill="#A9A9A9"/><path d="M-10 -11 L2 -4 L-2 3 L-13 -5Z" fill="#888"/><ellipse cx="-35" cy="-2" rx="17" ry="7.5" fill="none" stroke="#A9A9A9" stroke-width="4.2" transform="rotate(-8 -35 -2)"/><ellipse cx="-13" cy="-14" rx="12" ry="7" fill="none" stroke="#888" stroke-width="4" transform="rotate(-32 -13 -14)"/></g><rect x="2267.2" y="1838.6" width="171.9" height="99.5" fill="#fff" stroke="url(#gYG)" stroke-width="4"/><g transform="translate(2340.0,1876.0) rotate(0) scale(1.250)"><path d="M0 0 L-44 -22" stroke="#F0B090" stroke-width="0.6"/><path d="M0 0 L26 -17" stroke="#9CC0F0" stroke-width="0.6"/><path d="M0 0 L0 -8" stroke="#70D070" stroke-width="0.7"/><path d="M-4 -4 L64 18 L62 20 L-2 6Z" fill="#1F4E6E"/><path d="M-6 -1 L45 38 L43 40 L-1 8Z" fill="#173C56"/><path d="M-20 -3 L2 -3 L4 4 L-18 3Z" fill="#1F4E6E"/><path d="M-10 -11 L2 -4 L-2 3 L-13 -5Z" fill="#173C56"/><ellipse cx="-35" cy="-2" rx="17" ry="7.5" fill="none" stroke="#1F4E6E" stroke-width="4.2" transform="rotate(-8 -35 -2)"/><ellipse cx="-13" cy="-14" rx="12" ry="7" fill="none" stroke="#173C56" stroke-width="4" transform="rotate(-32 -13 -14)"/></g><rect x="2046.3" y="2169.5" width="185.2" height="99.3" fill="#fff" stroke="url(#gBB)" stroke-width="4"/><path d="M2107 2210 L2072 2187 M2107 2210 L2142 2190" stroke="#E0A080" stroke-width="0.7"/><path d="M2107 2210 L2107 2204" stroke="#60D060" stroke-width="0.8"/><path d="M2104 2211 L2116 2206 L2124 2214 L2112 2219Z" fill="#777"/><rect x="2155.1" y="2191.1" width="181.8" height="97.0" fill="#fff" stroke="url(#gBB)" stroke-width="4"/><g transform="translate(2222.0,2226.0) rotate(0) scale(0.950)"><path d="M0 0 L-44 -22" stroke="#F0B090" stroke-width="0.6"/><path d="M0 0 L26 -17" stroke="#9CC0F0" stroke-width="0.6"/><path d="M0 0 L0 -8" stroke="#70D070" stroke-width="0.7"/><path d="M-4 -4 L64 18 L62 20 L-2 6Z" fill="#A9A9A9"/><path d="M-6 -1 L45 38 L43 40 L-1 8Z" fill="#7C7C7C"/><path d="M-20 -3 L2 -3 L4 4 L-18 3Z" fill="#A9A9A9"/><path d="M-10 -11 L2 -4 L-2 3 L-13 -5Z" fill="#7C7C7C"/><ellipse opacity="0" cx="-35" cy="-2" rx="17" ry="7.5" fill="none" stroke="#A9A9A9" stroke-width="4.2" transform="rotate(-8 -35 -2)"/><ellipse opacity="0" cx="-13" cy="-14" rx="12" ry="7" fill="none" stroke="#7C7C7C" stroke-width="4" transform="rotate(-32 -13 -14)"/></g><rect x="2267.2" y="2215.6" width="169.8" height="100.8" fill="#fff" stroke="url(#gBB)" stroke-width="4"/><g transform="translate(2332.0,2250.0) rotate(0) scale(1.300)"><path d="M0 0 L-44 -22" stroke="#F0B090" stroke-width="0.6"/><path d="M0 0 L26 -17" stroke="#9CC0F0" stroke-width="0.6"/><path d="M0 0 L0 -8" stroke="#70D070" stroke-width="0.7"/><path d="M-4 -4 L64 18 L62 20 L-2 6Z" fill="#A9A9A9"/><path d="M-6 -1 L45 38 L43 40 L-1 8Z" fill="#7C7C7C"/><path d="M-20 -3 L2 -3 L4 4 L-18 3Z" fill="#A9A9A9"/><path d="M-10 -11 L2 -4 L-2 3 L-13 -5Z" fill="#7C7C7C"/><ellipse cx="-35" cy="-2" rx="17" ry="7.5" fill="none" stroke="#A9A9A9" stroke-width="4.2" transform="rotate(-8 -35 -2)"/><ellipse cx="-13" cy="-14" rx="12" ry="7" fill="none" stroke="#7C7C7C" stroke-width="4" transform="rotate(-32 -13 -14)"/></g><rect x="2049.3" y="1964.9" width="198.5" height="105.3" fill="#fff" stroke="url(#gMG)" stroke-width="3.6"/><text x="2148.5" y="1972.5" font-family="Liberation Sans, sans-serif" font-size="6.6" fill="#222" text-anchor="middle">Annotation Workflow</text><rect x="2073.0" y="1975.8" width="47.0" height="8.1" rx="1" fill="#2E75B6"/><rect x="2137.7" y="1975.8" width="37.6" height="8.1" rx="1" fill="#8FD0EE"/><rect x="2190.6" y="1975.8" width="19.8" height="8.1" rx="1" fill="#5B9BD5"/><text y="1981.6" font-family="Liberation Sans, sans-serif" font-size="4.32" fill="#fff" text-anchor="middle"><tspan x="2096.5">Next Question (A)</tspan><tspan x="2156.5">Optimize (O)</tspan><tspan x="2200.5">Save</tspan></text><text x="2052.5" y="1996.5" font-family="Liberation Sans, sans-serif" font-size="6.1" fill="#222">Please annotate the parameters for the <tspan fill="#E00000" font-weight="700" font-size="7.6">shaft</tspan> of this object.</text><text x="2053.0" y="2005.0" font-family="Liberation Sans, sans-serif" font-weight="700" font-size="4.1" fill="#222">proximal-blade-parts_sizes</text><rect x="2130.5" y="2001.1" width="26" height="5.1" fill="#fff" stroke="#888" stroke-width="0.5"/><text x="2131.5" y="2005.0" font-family="Liberation Sans, sans-serif" font-size="3.69" fill="#333">0.21</text><rect x="2157.5" y="2001.1" width="26" height="5.1" fill="#fff" stroke="#888" stroke-width="0.5"/><text x="2158.5" y="2005.0" font-family="Liberation Sans, sans-serif" font-size="3.69" fill="#333">0.02</text><rect x="2184.5" y="2001.1" width="26" height="5.1" fill="#fff" stroke="#888" stroke-width="0.5"/><text x="2185.5" y="2005.0" font-family="Liberation Sans, sans-serif" font-size="3.69" fill="#333">0.146</text><text x="2053.0" y="2012.6" font-family="Liberation Sans, sans-serif" font-weight="700" font-size="4.1" fill="#222">proximal-handle-parts_sizes</text><rect x="2130.5" y="2008.7" width="26" height="5.1" fill="#fff" stroke="#888" stroke-width="0.5"/><text x="2131.5" y="2012.6" font-family="Liberation Sans, sans-serif" font-size="3.69" fill="#333">0.11</text><rect x="2157.5" y="2008.7" width="26" height="5.1" fill="#fff" stroke="#888" stroke-width="0.5"/><text x="2158.5" y="2012.6" font-family="Liberation Sans, sans-serif" font-size="3.69" fill="#333">0.085</text><text x="2053.0" y="2020.2" font-family="Liberation Sans, sans-serif" font-weight="700" font-size="4.1" fill="#222">proximal-handle-parts_offset</text><rect x="2130.5" y="2016.3" width="26" height="5.1" fill="#fff" stroke="#888" stroke-width="0.5"/><text x="2131.5" y="2020.2" font-family="Liberation Sans, sans-serif" font-size="3.69" fill="#333">-0.03</text><text x="2053.0" y="2027.8" font-family="Liberation Sans, sans-serif" font-weight="700" font-size="4.1" fill="#222">parts_offset</text><rect x="2130.5" y="2023.9" width="26" height="5.1" fill="#fff" stroke="#888" stroke-width="0.5"/><text x="2131.5" y="2027.8" font-family="Liberation Sans, sans-serif" font-size="3.69" fill="#333">-0.01</text><text x="2053.0" y="2035.4" font-family="Liberation Sans, sans-serif" font-weight="700" font-size="4.1" fill="#222">parts_rotation</text><rect x="2130.5" y="2031.5" width="26" height="5.1" fill="#fff" stroke="#888" stroke-width="0.5"/><text x="2131.5" y="2035.4" font-family="Liberation Sans, sans-serif" font-size="3.69" fill="#333">14</text><text x="2053.0" y="2043.0" font-family="Liberation Sans, sans-serif" font-weight="700" font-size="4.1" fill="#222">central_part_existence</text><rect x="2130.5" y="2039.1" width="26" height="5.1" fill="#fff" stroke="#888" stroke-width="0.5"/><text x="2131.5" y="2043.0" font-family="Liberation Sans, sans-serif" font-size="3.69" fill="#333">1</text><text x="2053.0" y="2050.6" font-family="Liberation Sans, sans-serif" font-weight="700" font-size="4.1" fill="#222">central_part_sizes</text><rect x="2130.5" y="2046.7" width="26" height="5.1" fill="#fff" stroke="#888" stroke-width="0.5"/><text x="2131.5" y="2050.6" font-family="Liberation Sans, sans-serif" font-size="3.69" fill="#333">0.04</text><text x="2053.0" y="2058.2" font-family="Liberation Sans, sans-serif" font-weight="700" font-size="4.1" fill="#222">central_part_offset</text><rect x="2130.5" y="2054.3" width="26" height="5.1" fill="#fff" stroke="#888" stroke-width="0.5"/><text x="2131.5" y="2058.2" font-family="Liberation Sans, sans-serif" font-size="3.69" fill="#333">-0.03</text><text x="2053.0" y="2065.8" font-family="Liberation Sans, sans-serif" font-weight="700" font-size="4.1" fill="#222">position</text><rect x="2130.5" y="2061.9" width="26" height="5.1" fill="#fff" stroke="#888" stroke-width="0.5"/><text x="2131.5" y="2065.8" font-family="Liberation Sans, sans-serif" font-size="3.69" fill="#333">-0.25</text><defs><linearGradient id="da2" gradientUnits="userSpaceOnUse" x1="0" y1="1919.5" x2="0" y2="2189.5"><stop offset="0" stop-color="#F49A8A"/><stop offset="0.5" stop-color="#E060B0"/><stop offset="1" stop-color="#8A9A7A"/></linearGradient></defs><path d="M2198.4 1933.5 L2198.4 2175.5 M2201.6 1933.5 L2201.6 2175.5" stroke="url(#da2)" stroke-width="1.1" stroke-dasharray="6 2.5" fill="none"/><path d="M2200 1919.5 L2206.5 1938.5 L2193.5 1938.5Z" fill="#F4A080"/><path d="M2200 2189.5 L2206.5 2170.5 L2193.5 2170.5Z" fill="#8AA07A"/><rect x="2144.8" y="2015.1" width="196.4" height="73.4" fill="#fff" stroke="url(#gMG)" stroke-width="3.6"/><text x="2148.5" y="2024.5" font-family="Liberation Sans, sans-serif" font-size="5.7" fill="#222">Please annotate the parameters for the <tspan fill="#E00000" font-weight="700" font-size="7.2">blade</tspan> of this object.</text><text x="2149.5" y="2034.5" font-family="Liberation Sans, sans-serif" font-weight="700" font-size="4.1" fill="#222">blades_sizes</text><rect x="2224.0" y="2030.6" width="26.5" height="5.1" fill="#fff" stroke="#888" stroke-width="0.5"/><text x="2225.0" y="2034.5" font-family="Liberation Sans, sans-serif" font-size="3.69" fill="#333">0.65</text><rect x="2251.5" y="2030.6" width="26.5" height="5.1" fill="#fff" stroke="#888" stroke-width="0.5"/><text x="2252.5" y="2034.5" font-family="Liberation Sans, sans-serif" font-size="3.69" fill="#333">0.02</text><rect x="2279.0" y="2030.6" width="26.5" height="5.1" fill="#fff" stroke="#888" stroke-width="0.5"/><text x="2280.0" y="2034.5" font-family="Liberation Sans, sans-serif" font-size="3.69" fill="#333">0.09</text><rect x="2306.5" y="2030.6" width="26.5" height="5.1" fill="#fff" stroke="#888" stroke-width="0.5"/><text x="2307.5" y="2034.5" font-family="Liberation Sans, sans-serif" font-size="3.69" fill="#333">0.02</text><text x="2149.5" y="2042.8" font-family="Liberation Sans, sans-serif" font-weight="700" font-size="4.1" fill="#222">blades_offset</text><text x="2149.5" y="2051.1" font-family="Liberation Sans, sans-serif" font-weight="700" font-size="4.1" fill="#222">tips_length</text><text x="2149.5" y="2059.4" font-family="Liberation Sans, sans-serif" font-weight="700" font-size="4.1" fill="#222">tips_offset</text><text x="2149.5" y="2067.7" font-family="Liberation Sans, sans-serif" font-weight="700" font-size="4.1" fill="#222">blades_separation</text><text x="2149.5" y="2076.0" font-family="Liberation Sans, sans-serif" font-weight="700" font-size="4.1" fill="#222">blades_staggered_distance</text><text x="2149.5" y="2084.3" font-family="Liberation Sans, sans-serif" font-weight="700" font-size="4.1" fill="#222">blades_spread_angle</text><defs><linearGradient id="da3" gradientUnits="userSpaceOnUse" x1="0" y1="1940.1" x2="0" y2="2214"><stop offset="0" stop-color="#F49A8A"/><stop offset="0.5" stop-color="#E060B0"/><stop offset="1" stop-color="#8A9A7A"/></linearGradient></defs><path d="M2305.2000000000003 1954.1 L2305.2000000000003 2200 M2308.4 1954.1 L2308.4 2200" stroke="url(#da3)" stroke-width="1.1" stroke-dasharray="6 2.5" fill="none"/><path d="M2306.8 1940.1 L2313.3 1959.1 L2300.3 1959.1Z" fill="#F4A080"/><path d="M2306.8 2214 L2313.3 2195 L2300.3 2195Z" fill="#8AA07A"/><rect x="2217.4" y="2040.4" width="201.7" height="98.6" fill="#fff" stroke="url(#gMG)" stroke-width="3.6"/><text x="2223" y="2049.5" font-family="Liberation Sans, sans-serif" font-size="6" fill="#222">Please annotate the parameters for the <tspan fill="#E00000" font-weight="700" font-size="7.4">handle</tspan> of this object.</text><text x="2223.0" y="2059.0" font-family="Liberation Sans, sans-serif" font-weight="700" font-size="4" fill="#222">shanks_sizes</text><rect x="2299.5" y="2055.2" width="26.5" height="5.0" fill="#fff" stroke="#888" stroke-width="0.5"/><text x="2300.5" y="2059.0" font-family="Liberation Sans, sans-serif" font-size="3.60" fill="#333">0.115</text><rect x="2327.0" y="2055.2" width="26.5" height="5.0" fill="#fff" stroke="#888" stroke-width="0.5"/><text x="2328.0" y="2059.0" font-family="Liberation Sans, sans-serif" font-size="3.60" fill="#333">0.05</text><rect x="2354.5" y="2055.2" width="26.5" height="5.0" fill="#fff" stroke="#888" stroke-width="0.5"/><text x="2355.5" y="2059.0" font-family="Liberation Sans, sans-serif" font-size="3.60" fill="#333">0.085</text><rect x="2382.0" y="2055.2" width="26.5" height="5.0" fill="#fff" stroke="#888" stroke-width="0.5"/><text x="2383.0" y="2059.0" font-family="Liberation Sans, sans-serif" font-size="3.60" fill="#333">0.155</text><text x="2223.0" y="2067.1" font-family="Liberation Sans, sans-serif" font-weight="700" font-size="4" fill="#222">shanks_rotation</text><rect x="2299.5" y="2063.3" width="26.5" height="5.0" fill="#fff" stroke="#888" stroke-width="0.5"/><text x="2300.5" y="2067.1" font-family="Liberation Sans, sans-serif" font-size="3.60" fill="#333">29.5</text><text x="2223.0" y="2075.2" font-family="Liberation Sans, sans-serif" font-weight="700" font-size="4" fill="#222">ring_handles_radius</text><rect x="2299.5" y="2071.4" width="26.5" height="5.0" fill="#fff" stroke="#888" stroke-width="0.5"/><text x="2300.5" y="2075.2" font-family="Liberation Sans, sans-serif" font-size="3.60" fill="#333">0.15</text><text x="2223.0" y="2083.3" font-family="Liberation Sans, sans-serif" font-weight="700" font-size="4" fill="#222">ring_handles_thinkness</text><rect x="2299.5" y="2079.5" width="26.5" height="5.0" fill="#fff" stroke="#888" stroke-width="0.5"/><text x="2300.5" y="2083.3" font-family="Liberation Sans, sans-serif" font-size="3.60" fill="#333">0.05</text><rect x="2327.0" y="2079.5" width="26.5" height="5.0" fill="#fff" stroke="#888" stroke-width="0.5"/><text x="2328.0" y="2083.3" font-family="Liberation Sans, sans-serif" font-size="3.60" fill="#333">0.07</text><text x="2223.0" y="2091.4" font-family="Liberation Sans, sans-serif" font-weight="700" font-size="4" fill="#222">ring_handles_existing_angle</text><rect x="2299.5" y="2087.6" width="26.5" height="5.0" fill="#fff" stroke="#888" stroke-width="0.5"/><text x="2300.5" y="2091.4" font-family="Liberation Sans, sans-serif" font-size="3.60" fill="#333">131.5</text><text x="2223.0" y="2099.5" font-family="Liberation Sans, sans-serif" font-weight="700" font-size="4" fill="#222">ring_handles_size (along shank)</text><rect x="2299.5" y="2095.7" width="26.5" height="5.0" fill="#fff" stroke="#888" stroke-width="0.5"/><text x="2300.5" y="2099.5" font-family="Liberation Sans, sans-serif" font-size="3.60" fill="#333">0.37</text><text x="2223.0" y="2107.6" font-family="Liberation Sans, sans-serif" font-weight="700" font-size="4" fill="#222">ring_handles_separation</text><rect x="2299.5" y="2103.8" width="26.5" height="5.0" fill="#fff" stroke="#888" stroke-width="0.5"/><text x="2300.5" y="2107.6" font-family="Liberation Sans, sans-serif" font-size="3.60" fill="#333">0.035</text><text x="2223.0" y="2115.7" font-family="Liberation Sans, sans-serif" font-weight="700" font-size="4" fill="#222">ring_handles_rotation</text><rect x="2299.5" y="2111.9" width="26.5" height="5.0" fill="#fff" stroke="#888" stroke-width="0.5"/><text x="2300.5" y="2115.7" font-family="Liberation Sans, sans-serif" font-size="3.60" fill="#333">18.5</text><text x="2223.0" y="2123.8" font-family="Liberation Sans, sans-serif" font-weight="700" font-size="4" fill="#222">handles_separation</text><rect x="2299.5" y="2120.0" width="26.5" height="5.0" fill="#fff" stroke="#888" stroke-width="0.5"/><text x="2300.5" y="2123.8" font-family="Liberation Sans, sans-serif" font-size="3.60" fill="#333">0.2</text><text x="2223.0" y="2131.9" font-family="Liberation Sans, sans-serif" font-weight="700" font-size="4" fill="#222">handles_offset</text><rect x="2299.5" y="2128.1" width="26.5" height="5.0" fill="#fff" stroke="#888" stroke-width="0.5"/><text x="2300.5" y="2131.9" font-family="Liberation Sans, sans-serif" font-size="3.60" fill="#333">0</text><rect x="2327.0" y="2128.1" width="26.5" height="5.0" fill="#fff" stroke="#888" stroke-width="0.5"/><text x="2328.0" y="2131.9" font-family="Liberation Sans, sans-serif" font-size="3.60" fill="#333">0</text><text font-family="Liberation Serif, serif" font-weight="700" font-size="20.2" fill="#000" text-anchor="middle"><tspan x="2396.5" y="1982.2">Parameterize</tspan><tspan x="2392" y="2004.1">Concept Templates</tspan><tspan x="2400" y="2026">&amp; Optimize</tspan></text><path d="M2444 1887.5 Q2477.5 1888 2477.7 1898 L2477.7 1976 Q2478 1989 2503.8 1990.6 Q2478 1992 2477.7 2005 L2477.7 2252 Q2477.5 2263 2444 2264" fill="none" stroke="#4472C4" stroke-width="3"/><rect x="2503.8" y="1927.1" width="378.7" height="161.1" fill="#fff" stroke="#777" stroke-width="0.9"/><path d="M2636.4 1927 L2636.4 2088 M2749.2 1927 L2749.2 2088" stroke="#555" stroke-width="1.2"/><path d="M2749.2 2008.3 L2882.5 2008.3" stroke="#777" stroke-width="0.9"/><rect x="2834" y="1927.5" width="46" height="2" fill="#000"/><rect x="2746.2" y="1930" width="1.8" height="55" fill="#888"/><g transform="translate(2573.0,2008.0) rotate(0) scale(0.780)"><path d="M0 0 L-44 -22" stroke="#F0B090" stroke-width="0.6"/><path d="M0 0 L26 -17" stroke="#9CC0F0" stroke-width="0.6"/><path d="M0 0 L0 -8" stroke="#70D070" stroke-width="0.7"/><path d="M-4 -4 L64 18 L62 20 L-2 6Z" fill="#1F4E6E"/><path d="M-6 -1 L45 38 L43 40 L-1 8Z" fill="#173C56"/><path d="M-20 -3 L2 -3 L4 4 L-18 3Z" fill="#1F4E6E"/><path d="M-10 -11 L2 -4 L-2 3 L-13 -5Z" fill="#173C56"/><ellipse cx="-35" cy="-2" rx="17" ry="7.5" fill="none" stroke="#1F4E6E" stroke-width="4.2" transform="rotate(-8 -35 -2)"/><ellipse cx="-13" cy="-14" rx="12" ry="7" fill="none" stroke="#173C56" stroke-width="4" transform="rotate(-32 -13 -14)"/></g><g transform="translate(2820.0,1968.0) rotate(0) scale(0.620)"><path d="M0 0 L-44 -22" stroke="#F0B090" stroke-width="0.6"/><path d="M0 0 L26 -17" stroke="#9CC0F0" stroke-width="0.6"/><path d="M0 0 L0 -8" stroke="#70D070" stroke-width="0.7"/><path d="M-4 -4 L64 18 L62 20 L-2 6Z" fill="#A9A9A9"/><path d="M-6 -1 L45 38 L43 40 L-1 8Z" fill="#7C7C7C"/><path d="M-20 -3 L2 -3 L4 4 L-18 3Z" fill="#A9A9A9"/><path d="M-10 -11 L2 -4 L-2 3 L-13 -5Z" fill="#7C7C7C"/><ellipse cx="-35" cy="-2" rx="17" ry="7.5" fill="none" stroke="#A9A9A9" stroke-width="4.2" transform="rotate(-8 -35 -2)"/><ellipse cx="-13" cy="-14" rx="12" ry="7" fill="none" stroke="#7C7C7C" stroke-width="4" transform="rotate(-32 -13 -14)"/></g><g transform="translate(2819.0,2048.0) rotate(0) scale(0.620)"><path d="M0 0 L-44 -22" stroke="#F0B090" stroke-width="0.6"/><path d="M0 0 L26 -17" stroke="#9CC0F0" stroke-width="0.6"/><path d="M0 0 L0 -8" stroke="#70D070" stroke-width="0.7"/><path d="M-4 -4 L64 18 L62 20 L-2 6Z" fill="#A9A9A9"/><path d="M-6 -1 L45 38 L43 40 L-1 8Z" fill="#7C7C7C"/><path d="M-20 -3 L2 -3 L4 4 L-18 3Z" fill="#A9A9A9"/><path d="M-10 -11 L2 -4 L-2 3 L-13 -5Z" fill="#7C7C7C"/><ellipse cx="-35" cy="-2" rx="17" ry="7.5" fill="none" stroke="#A9A9A9" stroke-width="4.2" transform="rotate(-8 -35 -2)"/><ellipse cx="-13" cy="-14" rx="12" ry="7" fill="none" stroke="#7C7C7C" stroke-width="4" transform="rotate(-32 -13 -14)"/></g><text font-family="Liberation Sans, sans-serif" font-size="3.6" fill="#333"><tspan x="2505" y="1936">Mixed View</tspan><tspan x="2751" y="1934">Target Object</tspan><tspan x="2751" y="2015">Template Rendering</tspan></text><text x="2692" y="1934.5" font-family="Liberation Sans, sans-serif" font-size="3.8" fill="#333" text-anchor="middle">Annotation Workflow</text><rect x="2651.0" y="1936.5" width="25.9" height="4.5" rx="1" fill="#2E75B6"/><rect x="2686.6" y="1936.5" width="20.7" height="4.5" rx="1" fill="#8FD0EE"/><rect x="2715.8" y="1936.5" width="10.9" height="4.5" rx="1" fill="#5B9BD5"/><text y="1939.7" font-family="Liberation Sans, sans-serif" font-size="2.38" fill="#fff" text-anchor="middle"><tspan x="2663.9">Next Question (A)</tspan><tspan x="2697.0">Optimize (O)</tspan><tspan x="2721.2">Save</tspan></text><text font-family="Liberation Sans, sans-serif" font-size="3" fill="#222"><tspan x="2640" y="1946">Please check and finetune the parameters for optimal</tspan><tspan x="2640" y="1950">approximation.</tspan></text><path d="M2640 1974 L2745 1974 M2640 2028 L2745 2028 M2640 2068 L2745 2068" stroke="#999" stroke-width="0.5"/><text x="2692" y="1981" font-family="Liberation Sans, sans-serif" font-size="2.7" font-weight="700" fill="#222" text-anchor="middle">Parameters for <tspan fill="#E00000">shaft</tspan></text><text x="2692" y="2034" font-family="Liberation Sans, sans-serif" font-size="2.7" font-weight="700" fill="#222" text-anchor="middle">Parameters for <tspan fill="#E00000">blade</tspan></text><text x="2692" y="2074" font-family="Liberation Sans, sans-serif" font-size="2.7" font-weight="700" fill="#222" text-anchor="middle">Parameters for <tspan fill="#E00000">handle</tspan></text><rect x="2640" y="1955.0" width="28" height="1.3" fill="#555"/><rect x="2681" y="1953.8" width="12.5" height="3.2" fill="#fff" stroke="#999" stroke-width="0.4"/><rect x="2640" y="1959.3" width="28" height="1.3" fill="#555"/><rect x="2681" y="1958.1" width="12.5" height="3.2" fill="#fff" stroke="#999" stroke-width="0.4"/><rect x="2640" y="1963.6" width="34" height="1.3" fill="#555"/><rect x="2681" y="1962.4" width="12.5" height="3.2" fill="#fff" stroke="#999" stroke-width="0.4"/><rect x="2640" y="1967.9" width="30" height="1.3" fill="#555"/><rect x="2681" y="1966.7" width="12.5" height="3.2" fill="#fff" stroke="#999" stroke-width="0.4"/><rect x="2640" y="1986.0" width="22" height="1.3" fill="#555"/><rect x="2681" y="1984.8" width="12.5" height="3.2" fill="#fff" stroke="#999" stroke-width="0.4"/><rect x="2695" y="1984.8" width="12.5" height="3.2" fill="#fff" stroke="#999" stroke-width="0.4"/><rect x="2709" y="1984.8" width="12.5" height="3.2" fill="#fff" stroke="#999" stroke-width="0.4"/><rect x="2723" y="1984.8" width="12.5" height="3.2" fill="#fff" stroke="#999" stroke-width="0.4"/><rect x="2640" y="1990.3" width="22" height="1.3" fill="#555"/><rect x="2681" y="1989.1" width="12.5" height="3.2" fill="#fff" stroke="#999" stroke-width="0.4"/><rect x="2695" y="1989.1" width="12.5" height="3.2" fill="#fff" stroke="#999" stroke-width="0.4"/><rect x="2709" y="1989.1" width="12.5" height="3.2" fill="#fff" stroke="#999" stroke-width="0.4"/><rect x="2640" y="1994.6" width="34" height="1.3" fill="#555"/><rect x="2681" y="1993.4" width="12.5" height="3.2" fill="#fff" stroke="#999" stroke-width="0.4"/><rect x="2695" y="1993.4" width="12.5" height="3.2" fill="#fff" stroke="#999" stroke-width="0.4"/><rect x="2709" y="1993.4" width="12.5" height="3.2" fill="#fff" stroke="#999" stroke-width="0.4"/><rect x="2723" y="1993.4" width="12.5" height="3.2" fill="#fff" stroke="#999" stroke-width="0.4"/><rect x="2640" y="1998.9" width="28" height="1.3" fill="#555"/><rect x="2681" y="1997.7" width="12.5" height="3.2" fill="#fff" stroke="#999" stroke-width="0.4"/><rect x="2640" y="2003.2" width="30" height="1.3" fill="#555"/><rect x="2681" y="2002.0" width="12.5" height="3.2" fill="#fff" stroke="#999" stroke-width="0.4"/><rect x="2695" y="2002.0" width="12.5" height="3.2" fill="#fff" stroke="#999" stroke-width="0.4"/><rect x="2709" y="2002.0" width="12.5" height="3.2" fill="#fff" stroke="#999" stroke-width="0.4"/><rect x="2723" y="2002.0" width="12.5" height="3.2" fill="#fff" stroke="#999" stroke-width="0.4"/><rect x="2640" y="2007.5" width="30" height="1.3" fill="#555"/><rect x="2681" y="2006.3" width="12.5" height="3.2" fill="#fff" stroke="#999" stroke-width="0.4"/><rect x="2695" y="2006.3" width="12.5" height="3.2" fill="#fff" stroke="#999" stroke-width="0.4"/><rect x="2709" y="2006.3" width="12.5" height="3.2" fill="#fff" stroke="#999" stroke-width="0.4"/><rect x="2640" y="2011.8" width="28" height="1.3" fill="#555"/><rect x="2681" y="2010.6" width="12.5" height="3.2" fill="#fff" stroke="#999" stroke-width="0.4"/><rect x="2640" y="2016.1" width="28" height="1.3" fill="#555"/><rect x="2681" y="2014.9" width="12.5" height="3.2" fill="#fff" stroke="#999" stroke-width="0.4"/><rect x="2695" y="2014.9" width="12.5" height="3.2" fill="#fff" stroke="#999" stroke-width="0.4"/><rect x="2709" y="2014.9" width="12.5" height="3.2" fill="#fff" stroke="#999" stroke-width="0.4"/><rect x="2723" y="2014.9" width="12.5" height="3.2" fill="#fff" stroke="#999" stroke-width="0.4"/><rect x="2640" y="2020.4" width="30" height="1.3" fill="#555"/><rect x="2681" y="2019.2" width="12.5" height="3.2" fill="#fff" stroke="#999" stroke-width="0.4"/><rect x="2640" y="2038.0" width="22" height="1.3" fill="#555"/><rect x="2681" y="2036.8" width="12.5" height="3.2" fill="#fff" stroke="#999" stroke-width="0.4"/><rect x="2640" y="2042.3" width="22" height="1.3" fill="#555"/><rect x="2681" y="2041.1" width="12.5" height="3.2" fill="#fff" stroke="#999" stroke-width="0.4"/><rect x="2695" y="2041.1" width="12.5" height="3.2" fill="#fff" stroke="#999" stroke-width="0.4"/><rect x="2640" y="2046.6" width="22" height="1.3" fill="#555"/><rect x="2681" y="2045.4" width="12.5" height="3.2" fill="#fff" stroke="#999" stroke-width="0.4"/><rect x="2695" y="2045.4" width="12.5" height="3.2" fill="#fff" stroke="#999" stroke-width="0.4"/><rect x="2640" y="2050.9" width="30" height="1.3" fill="#555"/><rect x="2681" y="2049.7" width="12.5" height="3.2" fill="#fff" stroke="#999" stroke-width="0.4"/><rect x="2695" y="2049.7" width="12.5" height="3.2" fill="#fff" stroke="#999" stroke-width="0.4"/><rect x="2709" y="2049.7" width="12.5" height="3.2" fill="#fff" stroke="#999" stroke-width="0.4"/><rect x="2723" y="2049.7" width="12.5" height="3.2" fill="#fff" stroke="#999" stroke-width="0.4"/><rect x="2640" y="2055.2" width="30" height="1.3" fill="#555"/><rect x="2681" y="2054.0" width="12.5" height="3.2" fill="#fff" stroke="#999" stroke-width="0.4"/><rect x="2695" y="2054.0" width="12.5" height="3.2" fill="#fff" stroke="#999" stroke-width="0.4"/><rect x="2709" y="2054.0" width="12.5" height="3.2" fill="#fff" stroke="#999" stroke-width="0.4"/><rect x="2640" y="2059.5" width="30" height="1.3" fill="#555"/><rect x="2681" y="2058.3" width="12.5" height="3.2" fill="#fff" stroke="#999" stroke-width="0.4"/><rect x="2695" y="2058.3" width="12.5" height="3.2" fill="#fff" stroke="#999" stroke-width="0.4"/><rect x="2709" y="2058.3" width="12.5" height="3.2" fill="#fff" stroke="#999" stroke-width="0.4"/><rect x="2723" y="2058.3" width="12.5" height="3.2" fill="#fff" stroke="#999" stroke-width="0.4"/><rect x="2640" y="2063.8" width="30" height="1.3" fill="#555"/><rect x="2681" y="2062.6" width="12.5" height="3.2" fill="#fff" stroke="#999" stroke-width="0.4"/><rect x="2640" y="2078.0" width="34" height="1.3" fill="#555"/><rect x="2681" y="2076.8" width="12.5" height="3.2" fill="#fff" stroke="#999" stroke-width="0.4"/><rect x="2640" y="2082.3" width="22" height="1.3" fill="#555"/><rect x="2681" y="2081.1" width="12.5" height="3.2" fill="#fff" stroke="#999" stroke-width="0.4"/><rect x="2640" y="2086.6" width="30" height="1.3" fill="#555"/><rect x="2681" y="2085.4" width="12.5" height="3.2" fill="#fff" stroke="#999" stroke-width="0.4"/><text font-family="Liberation Serif, serif" font-weight="700" font-size="20.2" fill="#000" text-anchor="middle"><tspan x="2699.5" y="2109.3">Saved</tspan><tspan x="2699.5" y="2131.2">Conceptualization</tspan></text><path d="M2520.7 2192.6 L2560 2192.6" stroke="#4472C4" stroke-width="2.2"/><path d="M2552 2186 L2561.5 2192.6 L2552 2199" fill="none" stroke="#4472C4" stroke-width="2.2"/><rect x="2520.3" y="2218.6" width="40.5" height="11.6" fill="#fff" stroke="url(#gYG)" stroke-width="3.6"/><rect x="2520.3" y="2250.3" width="40.5" height="11.6" fill="#fff" stroke="url(#gGO)" stroke-width="3.6"/><rect x="2520.3" y="2282.8" width="40.5" height="11.6" fill="#fff" stroke="url(#gMG)" stroke-width="3.6"/><rect x="2520.3" y="2316.8" width="40.5" height="11.6" fill="#fff" stroke="url(#gGB)" stroke-width="3.6"/><text font-family="Liberation Serif, serif" font-size="20" fill="#000"><tspan x="2578.7" y="2202.7">The workflow of annotation</tspan><tspan x="2578.7" y="2233.4">The content of </tspan><tspan font-weight="700" font-style="italic">Mixed View</tspan><tspan x="2578.7" y="2265.8" font-weight="400" font-style="normal">The content of </tspan><tspan font-weight="700" font-style="italic">Target View</tspan><tspan x="2578.7" y="2297.8">The content of </tspan><tspan font-weight="700" font-style="italic">Work Space</tspan><tspan x="2578.7" y="2331">The content of </tspan><tspan font-weight="700" font-style="italic">Template Rendering</tspan></text></svg>
<div class="t cap" style="left:1202.0px;top:2357.84px;font-size:25px;line-height:30.0px;width:2000px;text-align:center;">An overview to our conceptualization interface and the workflow (blue arrow).</div>
<div class="t" style="left:1531.5px;top:2429.42px;font-size:35px;line-height:50.5px;">Covering two dimensions of an object:</div>
<div class="t" style="left:1531.8px;top:2480.52px;font-size:35px;line-height:50.5px;">•</div>
<div class="t" style="left:1531.8px;top:2581.02px;font-size:35px;line-height:50.5px;">•</div>
<div class="t" style="left:1576.4px;top:2480.65px;font-size:35px;line-height:50.25px;"><b>[TOP] General Structure:</b> Ground the best-match<br>concepts to the object for conceptualization<br><b>[Left] Geometric Details:</b> Fill the gap between<br>conceptualization and its real shape with BPS</div>
<svg style="left:2340px;top:2400px" width="580" height="300" viewBox="0 0 2352 1216.6" ><defs><linearGradient id="sf2" x1="0" y1="0" x2="1" y2="0"><stop offset="0" stop-color="#A848F0"/><stop offset="0.28" stop-color="#B040F0"/><stop offset="0.4" stop-color="#5A60F0"/><stop offset="0.6" stop-color="#38C8F8"/><stop offset="0.8" stop-color="#4870E8"/><stop offset="1" stop-color="#48C0F0"/></linearGradient><linearGradient id="sf4" x1="0" y1="0" x2="1" y2="0"><stop offset="0" stop-color="#FFB020"/><stop offset="0.25" stop-color="#FF8020"/><stop offset="0.38" stop-color="#FF3838"/><stop offset="0.6" stop-color="#FF50B0"/><stop offset="0.8" stop-color="#FF3050"/><stop offset="1" stop-color="#FF40D0"/></linearGradient><linearGradient id="sfd" x1="0" y1="0" x2="1" y2="0"><stop offset="0" stop-color="#2E2E2E"/><stop offset="1" stop-color="#585858"/></linearGradient><filter id="bpn" x="0" y="0" width="100%" height="100%"><feTurbulence type="fractalNoise" baseFrequency="0.35" numOctaves="1" seed="8" result="n"/><feColorMatrix in="n" type="matrix" values="0 0 0 0 1  0 0 0 0 1  0 0 0 0 1  0 0 0 -9 3.7" result="m"/><feComposite in="m" in2="SourceGraphic" operator="in" result="sp"/><feMerge><feMergeNode in="SourceGraphic"/><feMergeNode in="sp"/></feMerge></filter><pattern id="dpb" width="13" height="13" patternUnits="userSpaceOnUse" patternTransform="rotate(20)"><circle cx="3.5" cy="3.5" r="3.6" fill="#3E7CA8"/><circle cx="10" cy="10" r="3.4" fill="#3E7CA8"/></pattern><pattern id="lpb" width="13" height="13" patternUnits="userSpaceOnUse" patternTransform="rotate(8)"><rect x="0" y="3" width="13" height="6.5" fill="#3E7CA8"/></pattern><pattern id="dpp" width="13" height="13" patternUnits="userSpaceOnUse" patternTransform="rotate(20)"><circle cx="3.5" cy="3.5" r="3.6" fill="#9B7FD8"/><circle cx="10" cy="10" r="3.4" fill="#9B7FD8"/></pattern><pattern id="lpp" width="13" height="13" patternUnits="userSpaceOnUse" patternTransform="rotate(8)"><rect x="0" y="3" width="13" height="6.5" fill="#9B7FD8"/></pattern><pattern id="dpr" width="13" height="13" patternUnits="userSpaceOnUse" patternTransform="rotate(20)"><circle cx="3.5" cy="3.5" r="3.6" fill="#D8504A"/><circle cx="10" cy="10" r="3.4" fill="#D8504A"/></pattern><pattern id="lpr" width="13" height="13" patternUnits="userSpaceOnUse" patternTransform="rotate(8)"><rect x="0" y="3" width="13" height="6.5" fill="#D8504A"/></pattern></defs><rect x="140" y="75" width="845" height="508" rx="48" fill="none" stroke="#1F2A4F" stroke-width="8" stroke-dasharray="36 24"/><rect x="140" y="633" width="845" height="509" rx="48" fill="none" stroke="#1F2A4F" stroke-width="8" stroke-dasharray="36 24"/><g transform="translate(0,0)"><path d="M190 118 L320 92 L530 100 L415 128Z" fill="#0E0E0E" stroke-linejoin="round"/><path d="M415 128 L530 100 L525 462 L415 526Z" fill="url(#sfd)"/><path d="M288 135 L415 128 L415 526 L300 560Z" fill="#CFCFCF"/><path d="M308 215 L392 208 L392 240 L308 247Z" fill="#1E1E1E"/><path d="M308 440 L392 433 L392 500 L308 516Z" fill="#8E8E8E"/><path d="M188 124 L272 150 L276 556 L200 506Z" fill="#3A3A3A"/><path d="M268 150 L296 160 L298 556 L276 556Z" fill="#E4E4E4"/><path d="M160 368 L240 345" stroke="#BDBDBD" stroke-width="12"/><path d="M215 300 Q245 360 195 440" stroke="#CFCFCF" stroke-width="11" fill="none"/><rect x="385" y="520" width="20" height="36" fill="#BDBDBD"/><rect x="495" y="468" width="14" height="24" fill="#9A9A9A"/></g><g transform="translate(0,560)"><path d="M190 118 L320 92 L530 100 L415 128Z" fill="#0E0E0E" stroke-linejoin="round"/><path d="M415 128 L530 100 L525 462 L415 526Z" fill="url(#sfd)"/><path d="M288 135 L415 128 L415 526 L300 560Z" fill="#CFCFCF"/><path d="M308 215 L392 208 L392 240 L308 247Z" fill="#1E1E1E"/><path d="M308 440 L392 433 L392 500 L308 516Z" fill="#8E8E8E"/><path d="M188 124 L272 150 L276 556 L200 506Z" fill="#3A3A3A"/><path d="M268 150 L296 160 L298 556 L276 556Z" fill="#E4E4E4"/><path d="M160 368 L240 345" stroke="#BDBDBD" stroke-width="12"/><path d="M215 300 Q245 360 195 440" stroke="#CFCFCF" stroke-width="11" fill="none"/><rect x="385" y="520" width="20" height="36" fill="#BDBDBD"/><rect x="495" y="468" width="14" height="24" fill="#9A9A9A"/></g><path d="M600 132 L720 96 L945 100 L940 462 L838 528 L838 556 L800 556 L795 535 L700 562 L612 472Z" fill="url(#sf2)" filter="url(#bpn)"/><path d="M722 235 L822 228 L822 478 L722 485Z" fill="#58E4FA" opacity="0.75"/><path d="M720 205 L860 196 L860 238 L720 246Z" fill="#2858E0" opacity="0.8"/><path d="M604 692 L724 655 Q930 640 945 700 L940 1022 L838 1088 L838 1116 L800 1116 L795 1095 L700 1122 L616 1032Z" fill="url(#sf4)" filter="url(#bpn)"/><path d="M722 795 L822 788 L822 1038 L722 1045Z" fill="#FF70D8" opacity="0.7"/><path d="M720 765 L860 756 L860 798 L720 806Z" fill="#FF2848" opacity="0.8"/><rect x="372" y="112" width="60" height="62" fill="none" stroke="#FFC000" stroke-width="7" stroke-dasharray="18 8"/><rect x="157" y="240" width="60" height="62" fill="none" stroke="#FFC000" stroke-width="7" stroke-dasharray="18 8"/><rect x="226" y="252" width="60" height="62" fill="none" stroke="#FFC000" stroke-width="7" stroke-dasharray="18 8"/><rect x="782" y="112" width="60" height="62" fill="none" stroke="#FFC000" stroke-width="7" stroke-dasharray="18 8"/><rect x="576" y="240" width="60" height="62" fill="none" stroke="#FFC000" stroke-width="7" stroke-dasharray="18 8"/><rect x="640" y="258" width="60" height="62" fill="none" stroke="#FFC000" stroke-width="7" stroke-dasharray="18 8"/><rect x="372" y="682" width="60" height="62" fill="none" stroke="#0070C0" stroke-width="7" stroke-dasharray="18 8"/><rect x="162" y="805" width="60" height="62" fill="none" stroke="#0070C0" stroke-width="7" stroke-dasharray="18 8"/><rect x="232" y="818" width="60" height="62" fill="none" stroke="#0070C0" stroke-width="7" stroke-dasharray="18 8"/><rect x="780" y="682" width="60" height="62" fill="none" stroke="#0070C0" stroke-width="7" stroke-dasharray="18 8"/><rect x="572" y="805" width="60" height="62" fill="none" stroke="#0070C0" stroke-width="7" stroke-dasharray="18 8"/><rect x="635" y="818" width="60" height="62" fill="none" stroke="#0070C0" stroke-width="7" stroke-dasharray="18 8"/><path d="M1002 230 L1050 230 L1050 212 L1100 245 L1050 278 L1050 260 L1002 260Z" fill="#fff" stroke="#000" stroke-width="6"/><path d="M1098 940 L1050 940 L1050 922 L1000 955 L1050 988 L1050 970 L1098 970Z" fill="#fff" stroke="#000" stroke-width="6"/><rect x="1107" y="97" width="321" height="286" fill="none" stroke="#FFC000" stroke-width="7" stroke-dasharray="28 13"/><rect x="1107" y="460" width="321" height="282" fill="none" stroke="#000" stroke-width="7" stroke-dasharray="28 13"/><rect x="1107" y="822" width="321" height="283" fill="none" stroke="#0070C0" stroke-width="7" stroke-dasharray="28 13"/><path d="M1263.5 385 L1271.5 385 L1271.5 422 L1286.5 422 L1267.5 456 L1248.5 422 L1263.5 422Z" fill="#000"/><path d="M1263.5 745 L1271.5 745 L1271.5 784 L1286.5 784 L1267.5 818 L1248.5 784 L1263.5 784Z" fill="#000"/><rect x="1475" y="97" width="322" height="286" fill="none" stroke="#FFC000" stroke-width="7" stroke-dasharray="28 13"/><rect x="1475" y="460" width="322" height="282" fill="none" stroke="#000" stroke-width="7" stroke-dasharray="28 13"/><rect x="1475" y="822" width="322" height="283" fill="none" stroke="#0070C0" stroke-width="7" stroke-dasharray="28 13"/><path d="M1632.0 385 L1640.0 385 L1640.0 422 L1655.0 422 L1636.0 456 L1617.0 422 L1632.0 422Z" fill="#000"/><path d="M1632.0 745 L1640.0 745 L1640.0 784 L1655.0 784 L1636.0 818 L1617.0 784 L1632.0 784Z" fill="#000"/><rect x="1843" y="97" width="322" height="286" fill="none" stroke="#FFC000" stroke-width="7" stroke-dasharray="28 13"/><rect x="1843" y="460" width="322" height="282" fill="none" stroke="#000" stroke-width="7" stroke-dasharray="28 13"/><rect x="1843" y="822" width="322" height="283" fill="none" stroke="#0070C0" stroke-width="7" stroke-dasharray="28 13"/><path d="M2000.0 385 L2008.0 385 L2008.0 422 L2023.0 422 L2004.0 456 L1985.0 422 L2000.0 422Z" fill="#000"/><path d="M2000.0 745 L2008.0 745 L2008.0 784 L2023.0 784 L2004.0 818 L1985.0 784 L2000.0 784Z" fill="#000"/><path d="M1165 190 L1240 130 L1372 300 L1312 352Z" fill="url(#dpb)"/><path d="M1612 135 L1690 145 L1692 358 L1622 300Z" fill="url(#lpb)"/><path d="M1550 215 Q1590 180 1640 200 L1640 275 Q1590 295 1552 270Z" fill="url(#dpb)"/><path d="M1875 148 L2000 128 L2125 140 L2125 300 L2010 350 L1945 320 L1945 225 L1878 215Z" fill="url(#dpb)"/><path d="M1160 578 Q1165 503 1240 485 Q1300 493 1300 578 L1372 663 L1318 711 L1250 633 Q1175 643 1160 578Z" fill="url(#dpp)"/><path d="M1612 498 L1690 508 L1692 721 L1622 663Z" fill="url(#lpp)"/><path d="M1550 578 Q1590 543 1640 563 L1640 638 Q1590 658 1552 633Z" fill="url(#dpp)"/><path d="M1875 523 Q1990 478 2080 498 Q2125 523 2125 573 L2125 663 L2010 713 L1945 683 L1945 598 L1878 583Z" fill="url(#dpp)"/><path d="M1160 940 Q1165 865 1240 847 Q1300 855 1300 940 L1372 1025 L1318 1073 L1250 995 Q1175 1005 1160 940Z" fill="url(#dpr)"/><path d="M1612 860 L1690 870 L1692 1083 L1622 1025Z" fill="url(#lpr)"/><path d="M1550 940 Q1590 905 1640 925 L1640 1000 Q1590 1020 1552 995Z" fill="url(#dpr)"/><path d="M1875 885 Q1990 840 2080 860 Q2125 885 2125 935 L2125 1025 L2010 1075 L1945 1045 L1945 960 L1878 945Z" fill="url(#dpr)"/></svg>
<div class="bar o" style="left:2992.5px;top:461.7px;width:1238px;height:75.5px;border-radius:12.6px"></div>
<div class="t" style="left:3013.4px;top:473.13px;font-size:46.67px;line-height:56.0px;color:#000"><b>Procedural Knowledge Annotation</b></div>
<svg style="left:0px;top:0px" width="4320" height="2880" viewBox="0 0 4320 2880" ><rect x="2994.5" y="571.5" width="641.5" height="210.5" rx="24" fill="none" stroke="#172B54" stroke-width="4.4" stroke-dasharray="40 15"/><rect x="2994.5" y="827" width="641.5" height="104" rx="14" fill="none" stroke="#172B54" stroke-width="4.4" stroke-dasharray="40 15" stroke-dashoffset="-18"/><circle cx="3022.3" cy="613.3" r="10.3" fill="#D08A38"/><circle cx="3286.9" cy="615.7" r="10.3" fill="#E9E8C2"/><circle cx="3338.3" cy="648.5" r="10.3" fill="#D08A38"/><circle cx="3321" cy="678.5" r="10.3" fill="#E9E8C2"/><path d="M3666 653.8 L3693.3 653.8 L3693.3 647.4499999999999 L3716 658.3 L3693.3 669.15 L3693.3 662.8 L3666 662.8Z" fill="#000"/><path d="M3666 882.4 L3693.3 882.4 L3693.3 876.05 L3716 886.9 L3693.3 897.75 L3693.3 891.4 L3666 891.4Z" fill="#000"/><path d="M3943 654.8 L3970.3 654.8 L3970.3 648.4499999999999 L3993 659.3 L3970.3 670.15 L3970.3 663.8 L3943 663.8Z" fill="#000"/><path d="M3942.5 881.2 L3969.6000000000004 881.2 L3969.6000000000004 874.85 L3992.3 885.7 L3969.6000000000004 896.5500000000001 L3969.6000000000004 890.2 L3942.5 890.2Z" fill="#000"/></svg>
<div class="t se" style="left:3043.5px;top:603.69px;font-size:19px;line-height:22.8px;color:#000">≡</div>
<div class="t mo" style="left:3066.0px;top:607.34px;font-size:16.57px;line-height:19.88px;color:#000"><b>lid.is_handle;</b></div>
<div class="t se" style="left:3310.0px;top:603.69px;font-size:19px;line-height:22.8px;color:#000">≡</div>
<div class="t mo" style="left:3334.0px;top:607.34px;font-size:16.57px;line-height:19.88px;color:#000"><b>lid.is_body;</b></div>
<div class="t mo" style="left:3011.0px;top:639.94px;font-size:16.57px;line-height:19.88px;color:#000"><b>lid_handle &lt;- discriminate(lid,</b></div>
<div class="t mo" style="left:3361.7px;top:639.94px;font-size:16.57px;line-height:19.88px;color:#000"><b>);</b></div>
<div class="t mo" style="left:3011.0px;top:673.34px;font-size:16.57px;line-height:19.88px;color:#000"><b>lid_body &lt;- discriminate(lid,</b></div>
<div class="t mo" style="left:3341.0px;top:673.34px;font-size:16.57px;line-height:19.88px;color:#000"><b>);</b></div>
<div class="t mo" style="left:3011.0px;top:706.64px;font-size:16.57px;line-height:19.88px;color:#000"><b>main_container &lt;- ...;</b></div>
<div class="t mo" style="left:3011.0px;top:738.94px;font-size:16.57px;line-height:19.88px;color:#000"><b>...</b></div>
<div class="t mo" style="left:3008.3px;top:858.94px;font-size:16.57px;line-height:19.88px;color:#000"><b>side_handle_1_pose =</b></div>
<div class="t mo" style="left:3028.3px;top:891.64px;font-size:16.57px;line-height:19.88px;color:#000"><b>side_handle.handle_1_pose * side_handle.pose;</b></div>
<div class="t se" style="left:3107.7px;top:790.86px;font-size:23.3px;line-height:27.96px;width:400px;text-align:center;color:#000"><b>Region-Based</b></div>
<div class="t se" style="left:3107.5px;top:945.56px;font-size:23.3px;line-height:27.96px;width:400px;text-align:center;color:#000"><b>Pose-Based</b></div>
<svg style="left:3640px;top:540px" width="660" height="440" viewBox="0 0 2352 1568" ><defs><linearGradient id="ptb" x1="0" y1="0" x2="1" y2="0"><stop offset="0" stop-color="#007878"/><stop offset="0.5" stop-color="#00B2AE"/><stop offset="1" stop-color="#006C6C"/></linearGradient><linearGradient id="pgb" x1="0" y1="0" x2="1" y2="0"><stop offset="0" stop-color="#4E4E4E"/><stop offset="0.5" stop-color="#D4D4D4"/><stop offset="1" stop-color="#444"/></linearGradient><radialGradient id="ptl" cx="0.5" cy="0.95" r="0.9"><stop offset="0" stop-color="#FFFFD0"/><stop offset="0.5" stop-color="#F0F0B8"/><stop offset="1" stop-color="#6E6E48"/></radialGradient><radialGradient id="pgl" cx="0.5" cy="0.95" r="0.9"><stop offset="0" stop-color="#D8D8D8"/><stop offset="0.5" stop-color="#BEBEBE"/><stop offset="1" stop-color="#484848"/></radialGradient><filter id="pn1" x="0" y="0" width="100%" height="100%"><feTurbulence type="fractalNoise" baseFrequency="0.7" numOctaves="1" seed="11" result="n"/><feColorMatrix in="n" type="matrix" values="0 0 0 0 1  0 0 0 0 1  0 0 0 0 1  0 0 0 -9 3.95" result="m"/><feComposite in="m" in2="SourceGraphic" operator="in" result="sp"/><feMerge><feMergeNode in="SourceGraphic"/><feMergeNode in="sp"/></feMerge></filter></defs><g transform="translate(0,0)"><path d="M255 300 L372 242 L405 260 L300 318 L300 342 L255 322Z" fill="#EED2F8"/><path d="M300 318 L405 260 L405 285 L300 342Z" fill="#A98CB8"/><path d="M255 300 L372 242 L405 260 L300 318Z" fill="#C9A8D8"/><path d="M350 310 L390 615 Q400 690 642 700 Q880 690 900 615 L935 310Z" fill="url(#ptb)"/><ellipse cx="642" cy="310" rx="292" ry="86" fill="#006464"/><ellipse cx="642" cy="316" rx="268" ry="72" fill="#005252"/><path d="M378 300 Q410 240 565 214 L718 214 Q875 240 908 300 Q880 388 642 392 Q405 388 378 300Z" fill="url(#ptl)"/><path d="M565 180 L715 180 L706 226 Q640 248 574 226Z" fill="#E2943A"/><ellipse cx="640" cy="180" rx="75" ry="20" fill="#4A3212"/><path d="M880 392 L932 378 L960 378 L925 420 L882 430Z" fill="#F0D8FA"/><path d="M932 378 L1020 318 L1046 322 L1046 346 L985 408 L960 378Z" fill="#6E5880"/></g><g transform="translate(0,828)"><path d="M245 1140 L330 1085 L400 1100 L300 1160 L300 1185 L245 1165Z" transform="translate(0,-828)" fill="#109C9C"/><path d="M300 1160 L400 1100 L400 1125 L300 1185Z" transform="translate(0,-828)" fill="#087070"/><path d="M350 310 L390 615 Q400 690 642 700 Q880 690 900 615 L935 310Z" fill="url(#pgb)"/><ellipse cx="642" cy="310" rx="292" ry="86" fill="#5A5A5A"/><ellipse cx="642" cy="316" rx="268" ry="72" fill="#3E3E3E"/><path d="M378 300 Q410 240 565 214 L718 214 Q875 240 908 300 Q880 388 642 392 Q405 388 378 300Z" fill="url(#pgl)"/><path d="M565 180 L715 180 L706 226 Q640 248 574 226Z" fill="#B0B0B0"/><ellipse cx="640" cy="180" rx="75" ry="20" fill="#3E3E3E"/><path d="M880 392 L932 378 L960 378 L925 420 L882 430Z" fill="#E8E8E8"/><path d="M932 350 L1020 312 L1042 330 L985 408 L960 378Z" fill="#3E3E3E"/><path d="M915 360 L1010 320 L1015 335 L930 378Z" fill="#F4F4F4"/></g><path d="M340 1105 L382.1 961.9" stroke="#E01010" stroke-width="9"/><path d="M390 935 L394.6 965.5 L369.6 958.2Z" fill="#E01010"/><path d="M340 1105 L210.1 1040.5" stroke="#1010D0" stroke-width="9"/><path d="M185 1028 L215.9 1028.8 L204.3 1052.1Z" fill="#1010D0"/><path d="M340 1105 L405.0 1072.5" stroke="#10B010" stroke-width="9"/><path d="M430 1060 L410.8 1084.1 L399.1 1060.9Z" fill="#10B010"/><g transform="translate(0,0)"><ellipse cx="1352" cy="302" rx="52" ry="30" fill="none" stroke="#EBCDF6" stroke-width="34"/><ellipse cx="1985" cy="378" rx="48" ry="36" fill="none" stroke="#EBCDF6" stroke-width="34"/><path d="M1365 322 Q1360 290 1400 280 L1910 280 Q1950 290 1946 330 L1930 560 Q1900 700 1650 712 Q1420 700 1390 560Z" fill="#1A8E8A" filter="url(#pn1)"/><path d="M1392 320 Q1440 245 1655 236 Q1865 245 1920 320 Q1880 400 1655 405 Q1430 400 1392 320Z" fill="#F0F0BE" filter="url(#pn1)"/><path d="M1578 178 Q1655 160 1733 178 Q1728 205 1700 218 L1722 245 Q1655 262 1588 245 L1610 218 Q1582 205 1578 178Z" fill="#B9823E" filter="url(#pn1)"/></g><g transform="translate(0,820)"><ellipse cx="1355" cy="322" rx="50" ry="34" fill="none" stroke="#39A8A4" stroke-width="22"/><ellipse cx="1995" cy="378" rx="50" ry="40" fill="none" stroke="#D2D2D2" stroke-width="24"/><path d="M1365 322 Q1360 290 1400 280 L1910 280 Q1950 290 1946 330 L1930 560 Q1900 700 1650 712 Q1420 700 1390 560Z" fill="#D2D2D2" filter="url(#pn1)"/><path d="M1392 320 Q1440 245 1655 236 Q1865 245 1920 320 Q1880 400 1655 405 Q1430 400 1392 320Z" fill="#D4D4D4" filter="url(#pn1)"/><path d="M1590 178 Q1665 160 1740 178 Q1735 205 1708 218 L1728 245 Q1662 262 1598 245 L1618 218 Q1592 205 1590 178Z" fill="#D4D4D4" filter="url(#pn1)"/><path d="M1400 400 Q1650 470 1925 400 L1922 440 Q1650 510 1402 440Z" fill="#C2C2C2" opacity="0.8"/></g><path d="M1370 1110 L1411.9 971.8" stroke="#E01010" stroke-width="9"/><path d="M1420 945 L1424.3 975.6 L1399.4 968.0Z" fill="#E01010"/><path d="M1370 1110 L1240.2 1047.2" stroke="#1010D0" stroke-width="9"/><path d="M1215 1035 L1245.9 1035.5 L1234.5 1058.9Z" fill="#1010D0"/><path d="M1370 1110 L1429.7 1081.9" stroke="#10B010" stroke-width="9"/><path d="M1455 1070 L1435.2 1093.7 L1424.1 1070.2Z" fill="#10B010"/></svg>
<div class="t cap" style="left:2611.5px;top:985.59px;font-size:25px;line-height:30.1px;width:2000px;text-align:center;">Procedural annotation for different types of knowledge. [Top] Region-based knowledge like semantics is<br>implemented through region discrimination function. [Bottom] Pose-based knowledge like part pose is<br>implemented with transformations from local to world coordinates.</div>
<svg style="left:2960px;top:1080px" width="1360" height="300" viewBox="0 0 2352 518.8" ><defs><filter id="vn1" x="0" y="0" width="100%" height="100%"><feTurbulence type="fractalNoise" baseFrequency="0.75" numOctaves="1" seed="5" result="n"/><feColorMatrix in="n" type="matrix" values="0 0 0 0 1  0 0 0 0 1  0 0 0 0 1  0 0 0 -9 4.4" result="m"/><feComposite in="m" in2="SourceGraphic" operator="in" result="sp"/><feMerge><feMergeNode in="SourceGraphic"/><feMergeNode in="sp"/></feMerge></filter><filter id="vn2" x="0" y="0" width="100%" height="100%"><feTurbulence type="fractalNoise" baseFrequency="0.35" numOctaves="1" seed="9" result="n"/><feColorMatrix in="n" type="matrix" values="0 0 0 0 1  0 0 0 0 1  0 0 0 0 1  0 0 0 -14 8.2" result="m"/><feComposite in="m" in2="SourceGraphic" operator="in" result="sp"/><feMerge><feMergeNode in="SourceGraphic"/><feMergeNode in="sp"/></feMerge></filter></defs><g transform="translate(0,0)"><g fill="#C9C9C9"><path d="M117 80 L130 76 L129 236 L118 236Z"/><path d="M225 88 L238 84 L236 236 L225 236Z"/><path d="M117 76 L238 84 L238 98 L117 90Z"/><rect x="152" y="92" width="9" height="135"/><rect x="178" y="94" width="9" height="135"/><rect x="203" y="96" width="9" height="135"/></g><g fill="#EDCFF8"><path d="M84 268 L106 268 L106 402 L86 402Z"/><path d="M185 282 L211 282 L208 416 L186 416Z"/><path d="M118 285 L136 285 L136 352 L119 352Z"/><path d="M216 250 L236 250 L236 366 L217 366Z"/><path d="M104 288 L186 298 L186 310 L104 300Z"/></g><path d="M74 262 L120 222 L241 228 L216 277 Z" fill="#10847D"/><path d="M80 266 L214 278 L212 296 L190 300 L188 286 L110 280 L108 296 L84 292Z" fill="#10847D"/></g><g transform="translate(212,0)"><g fill="#C9C9C9"><path d="M117 80 L130 76 L129 236 L118 236Z"/><path d="M225 88 L238 84 L236 236 L225 236Z"/><path d="M117 76 L238 84 L238 98 L117 90Z"/><rect x="152" y="92" width="9" height="135"/><rect x="178" y="94" width="9" height="135"/><rect x="203" y="96" width="9" height="135"/></g><g fill="#EDCFF8"><path d="M84 268 L106 268 L106 402 L86 402Z"/><path d="M185 282 L211 282 L208 416 L186 416Z"/><path d="M118 285 L136 285 L136 352 L119 352Z"/><path d="M216 250 L236 250 L236 366 L217 366Z"/><path d="M104 288 L186 298 L186 310 L104 300Z"/></g><path d="M74 262 L120 222 L241 228 L216 277 Z" fill="#10847D"/></g><g transform="translate(0,0)"><path d="M560 95 L606 74 L746 74 L746 370 L702 416 L575 396Z" fill="#E4E4E4"/><path d="M702 96 L746 74 L746 370 L702 416Z" fill="#DADADA"/><path d="M558 96 L700 96 L700 202 L560 193Z" fill="#EDCFF8" stroke="#F03030" stroke-width="2.5"/><path d="M566 201 L700 206 L700 412 L576 396Z" fill="#2E918A" stroke="#F03030" stroke-width="1.5" filter="url(#vn1)"/><path d="M560 170 L640 172 L640 186 L560 183Z" fill="#F8C8A8" stroke="#F05030" stroke-width="2"/><path d="M564 222 L640 226 L640 240 L564 236Z" fill="#E8A080" stroke="#F05030" stroke-width="2"/></g><g transform="translate(246,0)"><path d="M560 95 L606 74 L746 74 L746 370 L702 416 L575 396Z" fill="#E4E4E4"/><path d="M702 96 L746 74 L746 370 L702 416Z" fill="#DADADA"/><path d="M558 96 L700 96 L700 202 L560 193Z" fill="#EDCFF8" stroke="#F03030" stroke-width="2.5"/><path d="M566 201 L700 206 L700 412 L576 396Z" fill="#2E918A" stroke="#F03030" stroke-width="2.5" filter="url(#vn1)"/><path d="M560 170 L640 172 L640 186 L560 183Z" fill="#F8C8A8" stroke="#F05030" stroke-width="2"/><path d="M564 222 L640 226 L640 240 L564 236Z" fill="#E8A080" stroke="#F05030" stroke-width="2"/></g><path d="M1097 200 L1362 188 L1346 370 L1150 396 L1100 332Z" fill="#E9E9E9"/><path d="M1080 125 L1245 110 L1270 158 L1357 150 L1300 215 L1172 240 L1110 182Z" fill="#962020" filter="url(#vn2)"/><path d="M1412 200 L1668 208 L1650 365 L1470 392 L1416 332Z" fill="#E9E9E9"/><path d="M1395 125 L1555 112 L1577 160 L1690 148 L1650 215 L1482 236 L1420 190Z" fill="#962020" filter="url(#vn1)"/><path d="M1752 185 L1937 175 L1920 400 L1846 432 L1770 396Z" fill="#EFEFEF"/><path d="M1768 115 L1842 119 L1950 176 L1944 189 L1772 127Z" fill="#F4E4E4" stroke="#962020" stroke-width="6"/><circle cx="1830" cy="358" r="13" fill="#E2E2E2"/><circle cx="1912" cy="385" r="12" fill="#E4E4E4"/><path d="M1990 180 L2172 170 L2152 400 L2076 430 L2010 396Z" fill="#EFEFEF"/><path d="M2000 118 L2112 140 L2182 180 L2170 186 L2060 150Z" fill="#F2F2F2"/><path d="M2002 114 L2112 132" stroke="#962020" stroke-width="7"/><circle cx="2066" cy="352" r="13" fill="#E2E2E2"/><circle cx="2146" cy="385" r="12" fill="#E4E4E4"/></svg>
<div class="t cap" style="left:2599.0px;top:1357.64px;font-size:25px;line-height:30.4px;width:2000px;text-align:center;">Visualization of different types of knowledge annotations including semantics, part pose and affordance (Push,<br>Pull). [Left] Annotations acquired by conventional approaches. [Right] Annotations acquired by our approach.</div>
<div class="t" style="left:2998.9px;top:1431.67px;font-size:35px;line-height:51px;">•</div>
<div class="t" style="left:2998.9px;top:1482.67px;font-size:35px;line-height:51px;">•</div>
<div class="t" style="left:3043.3px;top:1431.67px;font-size:35px;line-height:51px;"><b>More accurate and consistent annotations with less noise<br>Annotations acquired through automatic propagation of knowledge<br>procedurally defined on the concept templates</b></div>
<div class="bar g" style="left:2992.6px;top:1606.8px;width:1238px;height:89px;border-radius:14.8px"></div>
<div class="t" style="left:3002.5px;top:1619.09px;font-size:56.85px;line-height:68.22px;color:#000"><b>Quick Start</b></div>
<div class="t" style="left:3397.0px;top:1619.09px;font-size:56.85px;line-height:68.22px;color:#000"><b>ConceptFactory Asset</b></div>
<svg style="left:3300px;top:1610px" width="90" height="85" viewBox="0 0 90 85" ><defs><radialGradient id="fgcool" cx="0.62" cy="0.3" r="0.85"><stop offset="0" stop-color="#FFD84A"/><stop offset="0.55" stop-color="#FFB63A"/><stop offset="0.85" stop-color="#F78A4A"/><stop offset="1" stop-color="#E86A8A"/></radialGradient></defs><circle cx="44.69999999999982" cy="42" r="30" fill="url(#fgcool)"/><g transform="translate(44.69999999999982,42) scale(1.0)"><path d="M-29 -12 L29 -12 L28 -7 Q27 6 15 7 Q5 7 2.5 -4 L-2.5 -4 Q-5 7 -15 7 Q-27 6 -28 -7Z" fill="#2B2350"/><ellipse cx="-18" cy="-5" rx="3.2" ry="2.2" fill="#8C7BD8"/><ellipse cx="20" cy="-5" rx="3.2" ry="2.2" fill="#8C7BD8"/><path d="M-10 14 Q0 23 10 14" stroke="#6B2A1E" stroke-width="3.2" fill="none" stroke-linecap="round"/></g></svg>
<div class="t" style="left:2998.5px;top:1717.42px;font-size:35px;line-height:50.5px;">Large-scale object asset base with fine-grained conceptualization results:</div>
<div class="t" style="left:2998.9px;top:1768.52px;font-size:35px;line-height:50.5px;">•</div>
<div class="t" style="left:2998.9px;top:1869.12px;font-size:35px;line-height:50.5px;">•</div>
<div class="t" style="left:3043.3px;top:1768.65px;font-size:35px;line-height:50.25px;"><b>Large-scale:</b> 4380 objects across 39 object categories, including both real-<br>world scan and CAD models<br><b>Fine-grained:</b> Totally 39k basic template instances and 295k parameters,<br>an average of 8.8 basic template instances and 67.4 parameters per object</div>
<div class="t" style="left:2998.5px;top:1990.27px;font-size:35px;line-height:50.4px;">ConceptFactory Asset helps researchers easily customize their own knowledge<br>and acquire a large amount of well-annotated data to meet their research<br>needs in specific applications.</div>
<div class="bar g" style="left:2992.5px;top:2174.9px;width:1238px;height:89.7px;border-radius:15.0px"></div>
<div class="t" style="left:3002.5px;top:2187.99px;font-size:56.85px;line-height:68.22px;color:#000"><b>Comparisons</b></div>
<div class="t" style="left:3458.0px;top:2187.99px;font-size:56.85px;line-height:68.22px;color:#000"><b>Vison and Robotics</b></div>
<svg style="left:3370px;top:2185px" width="70" height="70" viewBox="0 0 70 70" ><defs><linearGradient id="vsg" x1="0" y1="0" x2="0" y2="1"><stop offset="0" stop-color="#FF9A3D"/><stop offset="1" stop-color="#F5703A"/></linearGradient></defs><rect x="6.2" y="7.3" width="55.6" height="55.9" rx="7.8" fill="url(#vsg)"/><text x="34.0" y="48.1" font-family="Liberation Sans, sans-serif" font-weight="700" font-size="34.7" fill="#FBF0FF" text-anchor="middle" textLength="38.9" lengthAdjust="spacingAndGlyphs">VS</text></svg>
<div style="position:absolute;left:2992px;top:2286.5px;width:978.1999999999998px;height:49.5px;background:#77453E"></div>
<div style="position:absolute;left:2992px;top:2433.2px;width:978.1999999999998px;height:48.90000000000009px;background:#EBD8C4"></div>
<svg style="left:0px;top:0px" width="4320" height="2880" viewBox="0 0 4320 2880" ><path d="M2992 2286.5 L3970.2 2286.5" stroke="#7B4A42" stroke-width="1.6"/><path d="M2992 2336 L3970.2 2336" stroke="#7B4A42" stroke-width="1.6"/><path d="M2992 2384.3 L3970.2 2384.3" stroke="#7B4A42" stroke-width="1.6"/><path d="M2992 2433.2 L3970.2 2433.2" stroke="#7B4A42" stroke-width="1.6"/><path d="M2992 2482.1 L3970.2 2482.1" stroke="#7B4A42" stroke-width="1.6"/><path d="M2992 2286.5 L2992 2482.1" stroke="#7B4A42" stroke-width="1.6"/><path d="M3236.9 2286.5 L3236.9 2482.1" stroke="#7B4A42" stroke-width="1.6"/><path d="M3481.4 2286.5 L3481.4 2482.1" stroke="#7B4A42" stroke-width="1.6"/><path d="M3725.7 2286.5 L3725.7 2482.1" stroke="#7B4A42" stroke-width="1.6"/><path d="M3970.2 2286.5 L3970.2 2482.1" stroke="#7B4A42" stroke-width="1.6"/></svg>
<div class="t se" style="left:3239.2px;top:2294.47px;font-size:30px;line-height:36.0px;width:240px;text-align:center;color:#fff"><b>Segmentation</b></div>
<div class="t se" style="left:3483.6px;top:2294.47px;font-size:30px;line-height:36.0px;width:240px;text-align:center;color:#fff"><b>Pose Estimation</b></div>
<div class="t se" style="left:3727.9px;top:2294.47px;font-size:30px;line-height:36.0px;width:240px;text-align:center;color:#fff"><b>Manipulation</b></div>
<div class="t se" style="left:2994.4px;top:2343.38px;font-size:30px;line-height:36.0px;width:240px;text-align:center;color:#000"><b>Original</b></div>
<div class="t se" style="left:3239.2px;top:2343.38px;font-size:30px;line-height:36.0px;width:240px;text-align:center;color:#000">75.4</div>
<div class="t se" style="left:3483.6px;top:2343.38px;font-size:30px;line-height:36.0px;width:240px;text-align:center;color:#000">42.6</div>
<div class="t se" style="left:3727.9px;top:2343.38px;font-size:30px;line-height:36.0px;width:240px;text-align:center;color:#000">33.0 / 15.6</div>
<div class="t se" style="left:2994.4px;top:2391.68px;font-size:30px;line-height:36.0px;width:240px;text-align:center;color:#000"><b>ConFac</b></div>
<div class="t se" style="left:3239.2px;top:2391.68px;font-size:30px;line-height:36.0px;width:240px;text-align:center;color:#000">75.6</div>
<div class="t se" style="left:3483.6px;top:2391.68px;font-size:30px;line-height:36.0px;width:240px;text-align:center;color:#000">42.8</div>
<div class="t se" style="left:3727.9px;top:2391.68px;font-size:30px;line-height:36.0px;width:240px;text-align:center;color:#000">37.4 / 18.5</div>
<div class="t se" style="left:2994.4px;top:2439.88px;font-size:30px;line-height:36.0px;width:240px;text-align:center;color:#000"><b>Δ</b></div>
<div class="t se" style="left:3239.2px;top:2439.88px;font-size:30px;line-height:36.0px;width:240px;text-align:center;color:#000"><b>0.2</b></div>
<div class="t se" style="left:3483.6px;top:2439.88px;font-size:30px;line-height:36.0px;width:240px;text-align:center;color:#000"><b>0.2</b></div>
<div class="t se" style="left:3727.9px;top:2439.88px;font-size:30px;line-height:36.0px;width:240px;text-align:center;color:#000"><b>4.4 / 2.9</b></div>
<div class="t cap" style="left:2481.0px;top:2489.44px;font-size:25px;line-height:29.8px;width:2000px;text-align:center;">Performance comparisons with baseline frameworks using the original annotation and<br>those acquired by our scheme</div>
<div class="t" style="left:2998.9px;top:2563.12px;font-size:35px;line-height:50.5px;">•</div>
<div class="t" style="left:2998.9px;top:2663.72px;font-size:35px;line-height:50.5px;">•</div>
<div class="t" style="left:3043.5px;top:2563.17px;font-size:35px;line-height:50.4px;"><b>Vision Tasks:</b> Minor discrepancies proves that our<br>annotations possess high quality on par with original ones<br><b>Manipulation Tasks:</b> The capability of providing high-quality<br>affordance knowledge is one of our major advantages</div>
<svg style="left:0px;top:0px" width="4320" height="2880" viewBox="0 0 4320 2880" ><defs><linearGradient id="qrg" gradientUnits="userSpaceOnUse" x1="0" y1="2299" x2="0" y2="2572"><stop offset="0" stop-color="#F2AE1A"/><stop offset="0.2" stop-color="#F0A61C"/><stop offset="0.25" stop-color="#EA9020"/><stop offset="0.45" stop-color="#E66A1C"/><stop offset="0.68" stop-color="#E2501A"/><stop offset="0.75" stop-color="#D8281C"/><stop offset="1" stop-color="#CC161C"/></linearGradient></defs><path d="M4067.4 2299.1h15.0v7.6h-15.0zM4089.5 2299.1h15.0v7.6h-15.0zM4111.7 2299.1h22.4v7.6h-22.4zM4141.2 2299.1h15.0v7.6h-15.0zM4170.7 2299.1h15.0v7.6h-15.0zM4192.8 2299.1h22.4v7.6h-22.4zM4060.0 2306.5h15.0v7.6h-15.0zM4089.5 2306.5h15.0v7.6h-15.0zM4141.2 2306.5h15.0v7.6h-15.0zM4170.7 2306.5h7.6v7.6h-7.6zM4192.8 2306.5h7.6v7.6h-7.6zM4207.6 2306.5h7.6v7.6h-7.6zM4067.4 2313.9h29.8v7.6h-29.8zM4104.3 2313.9h15.0v7.6h-15.0zM4133.8 2313.9h66.7v7.6h-66.7zM4067.4 2321.2h7.6v7.6h-7.6zM4082.2 2321.2h15.0v7.6h-15.0zM4104.3 2321.2h7.6v7.6h-7.6zM4163.3 2321.2h15.0v7.6h-15.0zM4185.5 2321.2h7.6v7.6h-7.6zM4200.2 2321.2h7.6v7.6h-7.6zM4067.4 2328.6h7.6v7.6h-7.6zM4082.2 2328.6h7.6v7.6h-7.6zM4096.9 2328.6h37.1v7.6h-37.1zM4141.2 2328.6h29.8v7.6h-29.8zM4178.1 2328.6h7.6v7.6h-7.6zM4192.8 2328.6h22.4v7.6h-22.4zM4067.4 2336.0h15.0v7.6h-15.0zM4170.7 2336.0h15.0v7.6h-15.0zM4192.8 2336.0h22.4v7.6h-22.4zM4060.0 2343.4h7.6v7.6h-7.6zM4074.8 2343.4h7.6v7.6h-7.6zM4089.5 2343.4h7.6v7.6h-7.6zM4104.3 2343.4h7.6v7.6h-7.6zM4119.1 2343.4h7.6v7.6h-7.6zM4133.8 2343.4h7.6v7.6h-7.6zM4148.6 2343.4h7.6v7.6h-7.6zM4163.3 2343.4h7.6v7.6h-7.6zM4178.1 2343.4h7.6v7.6h-7.6zM4192.8 2343.4h7.6v7.6h-7.6zM4207.6 2343.4h7.6v7.6h-7.6zM4060.0 2350.7h7.6v7.6h-7.6zM4082.2 2350.7h29.8v7.6h-29.8zM4126.4 2350.7h15.0v7.6h-15.0zM4155.9 2350.7h7.6v7.6h-7.6zM4185.5 2350.7h15.0v7.6h-15.0zM4015.8 2358.1h7.6v7.6h-7.6zM4037.9 2358.1h15.0v7.6h-15.0zM4060.0 2358.1h22.4v7.6h-22.4zM4096.9 2358.1h7.6v7.6h-7.6zM4111.7 2358.1h7.6v7.6h-7.6zM4133.8 2358.1h15.0v7.6h-15.0zM4178.1 2358.1h7.6v7.6h-7.6zM4192.8 2358.1h7.6v7.6h-7.6zM4215.0 2358.1h29.8v7.6h-29.8zM4251.9 2358.1h7.6v7.6h-7.6zM4266.6 2358.1h7.6v7.6h-7.6zM4015.8 2365.5h15.0v7.6h-15.0zM4037.9 2365.5h7.6v7.6h-7.6zM4067.4 2365.5h22.4v7.6h-22.4zM4096.9 2365.5h22.4v7.6h-22.4zM4126.4 2365.5h22.4v7.6h-22.4zM4178.1 2365.5h22.4v7.6h-22.4zM4215.0 2365.5h7.6v7.6h-7.6zM4237.1 2365.5h15.0v7.6h-15.0zM4259.2 2365.5h7.6v7.6h-7.6zM4001.0 2372.9h7.6v7.6h-7.6zM4015.8 2372.9h15.0v7.6h-15.0zM4045.3 2372.9h15.0v7.6h-15.0zM4067.4 2372.9h15.0v7.6h-15.0zM4089.5 2372.9h15.0v7.6h-15.0zM4133.8 2372.9h7.6v7.6h-7.6zM4148.6 2372.9h7.6v7.6h-7.6zM4163.3 2372.9h66.7v7.6h-66.7zM4237.1 2372.9h15.0v7.6h-15.0zM4259.2 2372.9h7.6v7.6h-7.6zM4008.4 2380.3h7.6v7.6h-7.6zM4023.1 2380.3h22.4v7.6h-22.4zM4089.5 2380.3h59.3v7.6h-59.3zM4178.1 2380.3h29.8v7.6h-29.8zM4215.0 2380.3h15.0v7.6h-15.0zM4237.1 2380.3h37.1v7.6h-37.1zM4023.1 2387.6h37.1v7.6h-37.1zM4082.2 2387.6h22.4v7.6h-22.4zM4148.6 2387.6h15.0v7.6h-15.0zM4178.1 2387.6h22.4v7.6h-22.4zM4244.5 2387.6h7.6v7.6h-7.6zM4259.2 2387.6h15.0v7.6h-15.0zM4001.0 2395.0h7.6v7.6h-7.6zM4023.1 2395.0h22.4v7.6h-22.4zM4052.6 2395.0h7.6v7.6h-7.6zM4067.4 2395.0h15.0v7.6h-15.0zM4096.9 2395.0h29.8v7.6h-29.8zM4133.8 2395.0h15.0v7.6h-15.0zM4155.9 2395.0h7.6v7.6h-7.6zM4170.7 2395.0h7.6v7.6h-7.6zM4200.2 2395.0h22.4v7.6h-22.4zM4237.1 2395.0h37.1v7.6h-37.1zM4015.8 2402.4h7.6v7.6h-7.6zM4037.9 2402.4h29.8v7.6h-29.8zM4089.5 2402.4h29.8v7.6h-29.8zM4133.8 2402.4h29.8v7.6h-29.8zM4170.7 2402.4h37.1v7.6h-37.1zM4222.4 2402.4h7.6v7.6h-7.6zM4237.1 2402.4h7.6v7.6h-7.6zM4251.9 2402.4h22.4v7.6h-22.4zM4001.0 2409.8h15.0v7.6h-15.0zM4030.5 2409.8h15.0v7.6h-15.0zM4067.4 2409.8h37.1v7.6h-37.1zM4155.9 2409.8h7.6v7.6h-7.6zM4192.8 2409.8h7.6v7.6h-7.6zM4215.0 2409.8h15.0v7.6h-15.0zM4244.5 2409.8h29.8v7.6h-29.8zM4015.8 2417.2h15.0v7.6h-15.0zM4037.9 2417.2h15.0v7.6h-15.0zM4060.0 2417.2h7.6v7.6h-7.6zM4074.8 2417.2h7.6v7.6h-7.6zM4089.5 2417.2h7.6v7.6h-7.6zM4104.3 2417.2h15.0v7.6h-15.0zM4126.4 2417.2h15.0v7.6h-15.0zM4148.6 2417.2h15.0v7.6h-15.0zM4207.6 2417.2h29.8v7.6h-29.8zM4244.5 2417.2h15.0v7.6h-15.0zM4266.6 2417.2h7.6v7.6h-7.6zM4001.0 2424.5h22.4v7.6h-22.4zM4030.5 2424.5h7.6v7.6h-7.6zM4052.6 2424.5h22.4v7.6h-22.4zM4082.2 2424.5h7.6v7.6h-7.6zM4096.9 2424.5h7.6v7.6h-7.6zM4111.7 2424.5h7.6v7.6h-7.6zM4126.4 2424.5h15.0v7.6h-15.0zM4185.5 2424.5h15.0v7.6h-15.0zM4222.4 2424.5h7.6v7.6h-7.6zM4244.5 2424.5h15.0v7.6h-15.0zM4266.6 2424.5h7.6v7.6h-7.6zM4001.0 2431.9h7.6v7.6h-7.6zM4030.5 2431.9h22.4v7.6h-22.4zM4082.2 2431.9h15.0v7.6h-15.0zM4104.3 2431.9h7.6v7.6h-7.6zM4133.8 2431.9h7.6v7.6h-7.6zM4155.9 2431.9h7.6v7.6h-7.6zM4178.1 2431.9h15.0v7.6h-15.0zM4200.2 2431.9h7.6v7.6h-7.6zM4215.0 2431.9h7.6v7.6h-7.6zM4251.9 2431.9h7.6v7.6h-7.6zM4266.6 2431.9h7.6v7.6h-7.6zM4023.1 2439.3h22.4v7.6h-22.4zM4089.5 2439.3h7.6v7.6h-7.6zM4104.3 2439.3h15.0v7.6h-15.0zM4126.4 2439.3h59.3v7.6h-59.3zM4207.6 2439.3h7.6v7.6h-7.6zM4237.1 2439.3h7.6v7.6h-7.6zM4259.2 2439.3h7.6v7.6h-7.6zM4001.0 2446.7h22.4v7.6h-22.4zM4045.3 2446.7h29.8v7.6h-29.8zM4082.2 2446.7h15.0v7.6h-15.0zM4104.3 2446.7h7.6v7.6h-7.6zM4119.1 2446.7h7.6v7.6h-7.6zM4148.6 2446.7h7.6v7.6h-7.6zM4163.3 2446.7h7.6v7.6h-7.6zM4178.1 2446.7h15.0v7.6h-15.0zM4244.5 2446.7h29.8v7.6h-29.8zM4008.4 2454.0h7.6v7.6h-7.6zM4023.1 2454.0h7.6v7.6h-7.6zM4037.9 2454.0h7.6v7.6h-7.6zM4052.6 2454.0h22.4v7.6h-22.4zM4082.2 2454.0h7.6v7.6h-7.6zM4104.3 2454.0h22.4v7.6h-22.4zM4133.8 2454.0h15.0v7.6h-15.0zM4163.3 2454.0h7.6v7.6h-7.6zM4178.1 2454.0h22.4v7.6h-22.4zM4237.1 2454.0h7.6v7.6h-7.6zM4251.9 2454.0h15.0v7.6h-15.0zM4015.8 2461.4h44.5v7.6h-44.5zM4089.5 2461.4h15.0v7.6h-15.0zM4119.1 2461.4h15.0v7.6h-15.0zM4148.6 2461.4h7.6v7.6h-7.6zM4163.3 2461.4h15.0v7.6h-15.0zM4185.5 2461.4h7.6v7.6h-7.6zM4215.0 2461.4h22.4v7.6h-22.4zM4251.9 2461.4h22.4v7.6h-22.4zM4008.4 2468.8h15.0v7.6h-15.0zM4037.9 2468.8h7.6v7.6h-7.6zM4067.4 2468.8h15.0v7.6h-15.0zM4096.9 2468.8h29.8v7.6h-29.8zM4133.8 2468.8h7.6v7.6h-7.6zM4148.6 2468.8h7.6v7.6h-7.6zM4170.7 2468.8h22.4v7.6h-22.4zM4207.6 2468.8h7.6v7.6h-7.6zM4244.5 2468.8h7.6v7.6h-7.6zM4266.6 2468.8h7.6v7.6h-7.6zM4015.8 2476.2h15.0v7.6h-15.0zM4045.3 2476.2h7.6v7.6h-7.6zM4060.0 2476.2h37.1v7.6h-37.1zM4126.4 2476.2h7.6v7.6h-7.6zM4148.6 2476.2h29.8v7.6h-29.8zM4200.2 2476.2h37.1v7.6h-37.1zM4244.5 2476.2h7.6v7.6h-7.6zM4259.2 2476.2h7.6v7.6h-7.6zM4001.0 2483.6h15.0v7.6h-15.0zM4023.1 2483.6h15.0v7.6h-15.0zM4089.5 2483.6h15.0v7.6h-15.0zM4119.1 2483.6h7.6v7.6h-7.6zM4141.2 2483.6h15.0v7.6h-15.0zM4192.8 2483.6h7.6v7.6h-7.6zM4215.0 2483.6h15.0v7.6h-15.0zM4244.5 2483.6h7.6v7.6h-7.6zM4266.6 2483.6h7.6v7.6h-7.6zM4001.0 2490.9h15.0v7.6h-15.0zM4023.1 2490.9h7.6v7.6h-7.6zM4037.9 2490.9h15.0v7.6h-15.0zM4060.0 2490.9h15.0v7.6h-15.0zM4082.2 2490.9h15.0v7.6h-15.0zM4104.3 2490.9h15.0v7.6h-15.0zM4126.4 2490.9h15.0v7.6h-15.0zM4163.3 2490.9h7.6v7.6h-7.6zM4207.6 2490.9h59.3v7.6h-59.3zM4023.1 2498.3h15.0v7.6h-15.0zM4052.6 2498.3h7.6v7.6h-7.6zM4067.4 2498.3h22.4v7.6h-22.4zM4141.2 2498.3h7.6v7.6h-7.6zM4155.9 2498.3h15.0v7.6h-15.0zM4178.1 2498.3h37.1v7.6h-37.1zM4222.4 2498.3h7.6v7.6h-7.6zM4237.1 2498.3h7.6v7.6h-7.6zM4015.8 2505.7h15.0v7.6h-15.0zM4045.3 2505.7h15.0v7.6h-15.0zM4067.4 2505.7h51.9v7.6h-51.9zM4126.4 2505.7h7.6v7.6h-7.6zM4155.9 2505.7h7.6v7.6h-7.6zM4170.7 2505.7h15.0v7.6h-15.0zM4192.8 2505.7h7.6v7.6h-7.6zM4207.6 2505.7h44.5v7.6h-44.5zM4259.2 2505.7h15.0v7.6h-15.0zM4067.4 2513.1h15.0v7.6h-15.0zM4089.5 2513.1h7.6v7.6h-7.6zM4119.1 2513.1h15.0v7.6h-15.0zM4141.2 2513.1h22.4v7.6h-22.4zM4170.7 2513.1h7.6v7.6h-7.6zM4185.5 2513.1h15.0v7.6h-15.0zM4207.6 2513.1h7.6v7.6h-7.6zM4237.1 2513.1h7.6v7.6h-7.6zM4251.9 2513.1h7.6v7.6h-7.6zM4082.2 2520.5h22.4v7.6h-22.4zM4111.7 2520.5h7.6v7.6h-7.6zM4141.2 2520.5h15.0v7.6h-15.0zM4163.3 2520.5h37.1v7.6h-37.1zM4207.6 2520.5h7.6v7.6h-7.6zM4222.4 2520.5h7.6v7.6h-7.6zM4237.1 2520.5h7.6v7.6h-7.6zM4266.6 2520.5h7.6v7.6h-7.6zM4082.2 2527.8h7.6v7.6h-7.6zM4104.3 2527.8h7.6v7.6h-7.6zM4133.8 2527.8h15.0v7.6h-15.0zM4155.9 2527.8h7.6v7.6h-7.6zM4170.7 2527.8h7.6v7.6h-7.6zM4192.8 2527.8h7.6v7.6h-7.6zM4207.6 2527.8h7.6v7.6h-7.6zM4237.1 2527.8h7.6v7.6h-7.6zM4259.2 2527.8h7.6v7.6h-7.6zM4060.0 2535.2h15.0v7.6h-15.0zM4089.5 2535.2h22.4v7.6h-22.4zM4119.1 2535.2h7.6v7.6h-7.6zM4148.6 2535.2h29.8v7.6h-29.8zM4207.6 2535.2h37.1v7.6h-37.1zM4251.9 2535.2h7.6v7.6h-7.6zM4082.2 2542.6h22.4v7.6h-22.4zM4111.7 2542.6h44.5v7.6h-44.5zM4163.3 2542.6h22.4v7.6h-22.4zM4192.8 2542.6h7.6v7.6h-7.6zM4215.0 2542.6h15.0v7.6h-15.0zM4259.2 2542.6h7.6v7.6h-7.6zM4060.0 2550.0h7.6v7.6h-7.6zM4096.9 2550.0h7.6v7.6h-7.6zM4119.1 2550.0h37.1v7.6h-37.1zM4178.1 2550.0h22.4v7.6h-22.4zM4229.7 2550.0h15.0v7.6h-15.0zM4060.0 2557.3h7.6v7.6h-7.6zM4082.2 2557.3h7.6v7.6h-7.6zM4111.7 2557.3h7.6v7.6h-7.6zM4126.4 2557.3h37.1v7.6h-37.1zM4170.7 2557.3h37.1v7.6h-37.1zM4222.4 2557.3h7.6v7.6h-7.6zM4237.1 2557.3h7.6v7.6h-7.6zM4251.9 2557.3h15.0v7.6h-15.0zM4060.0 2564.7h37.1v7.6h-37.1zM4104.3 2564.7h7.6v7.6h-7.6zM4133.8 2564.7h37.1v7.6h-37.1zM4178.1 2564.7h7.6v7.6h-7.6zM4200.2 2564.7h7.6v7.6h-7.6zM4215.0 2564.7h7.6v7.6h-7.6zM4244.5 2564.7h15.0v7.6h-15.0zM4266.6 2564.7h7.6v7.6h-7.6z" fill="url(#qrg)"/><rect x="4004.7" y="2302.8" width="44.3" height="44.3" rx="11.1" fill="none" stroke="url(#qrg)" stroke-width="7.4"/><circle cx="4026.8" cy="2324.9" r="11.4" fill="url(#qrg)"/><rect x="4226.0" y="2302.8" width="44.3" height="44.3" rx="11.1" fill="none" stroke="url(#qrg)" stroke-width="7.4"/><circle cx="4248.2" cy="2324.9" r="11.4" fill="url(#qrg)"/><rect x="4004.7" y="2524.1" width="44.3" height="44.3" rx="11.1" fill="none" stroke="url(#qrg)" stroke-width="7.4"/><circle cx="4026.8" cy="2546.3" r="11.4" fill="url(#qrg)"/><defs><linearGradient id="smg" x1="0" y1="0" x2="0" y2="1"><stop offset="0" stop-color="#F0787C"/><stop offset="0.55" stop-color="#F28C70"/><stop offset="1" stop-color="#F6B060"/></linearGradient></defs><text y="2678" font-family="'DejaVu Sans Light','DejaVu Sans',sans-serif" font-style="italic" font-weight="200" font-size="56" fill="url(#smg)" transform="rotate(-2 4136 2660)"><tspan x="3994" font-size="66">S</tspan><tspan x="4036">c</tspan><tspan x="4072">a</tspan><tspan x="4103">n</tspan><tspan x="4160" font-size="60">M</tspan><tspan x="4209">e</tspan><tspan x="4252" font-size="66">!</tspan></text></svg>
</body></html>
